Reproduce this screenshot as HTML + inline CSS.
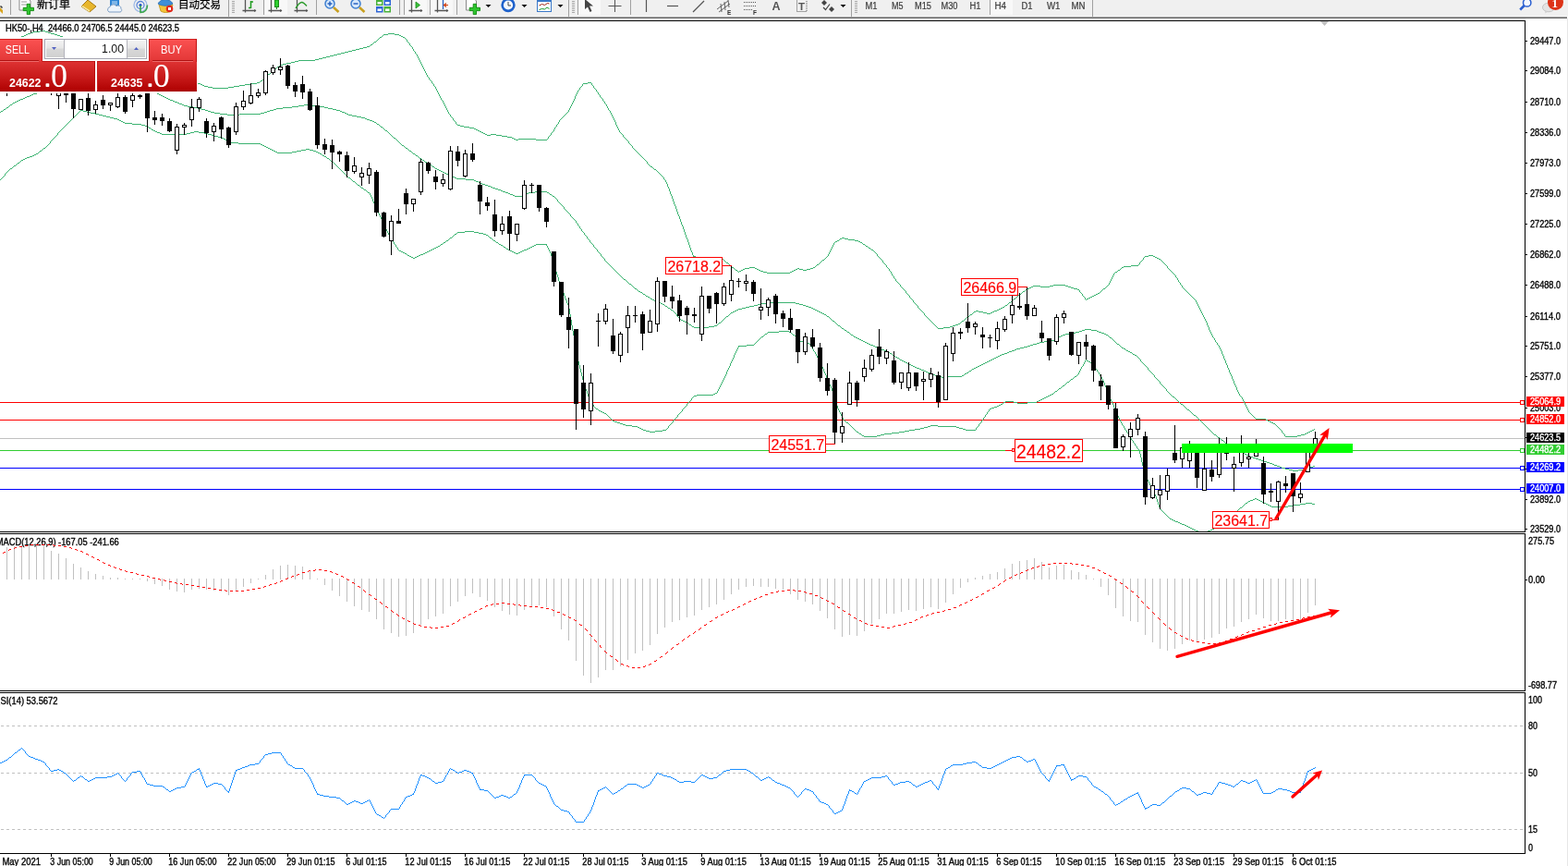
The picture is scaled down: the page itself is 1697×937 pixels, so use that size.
<!DOCTYPE html>
<html><head><meta charset="utf-8"><title>HK50 H4</title><style>
html,body{margin:0;padding:0;background:#fff;}
body{width:1697px;height:937px;overflow:hidden;position:relative;font-family:"Liberation Sans","Noto Sans CJK SC",sans-serif;}
#edge{position:absolute;left:1696px;top:20px;width:1px;height:917px;background:#e6e6e6;}
#tb{position:absolute;left:0;top:0;width:1697px;height:20px;overflow:hidden;}
#tp{position:absolute;left:0;top:42px;width:213px;height:57px;background:#fff;color:#fff;}
#tp .sell{position:absolute;left:0;top:0;width:46px;height:24px;background:linear-gradient(#f65454,#e03a3a);font-size:12.5px;line-height:23px;text-indent:5px;border-bottom:1px solid #c82a2a;box-sizing:border-box;}
#tp .buy{position:absolute;left:161px;top:0;width:52px;height:24px;background:linear-gradient(#f65454,#e03a3a);font-size:12.5px;line-height:23px;text-indent:13px;border-bottom:1px solid #c82a2a;box-sizing:border-box;}
#tp .vol{position:absolute;left:48px;top:0;width:111px;height:22px;box-sizing:border-box;border:1px solid #b4b4bc;background:#fff;}
#tp .vb{position:absolute;top:1px;width:19px;height:18px;background:linear-gradient(#f4f4f4,#cfcfcf);border:1px solid #c4c4c4;box-sizing:border-box;}
#tp .vb.l{left:1px;} #tp .vb.r{right:1px;}
#tp .vb i{position:absolute;left:6px;top:7px;width:0;height:0;border-left:2.5px solid transparent;border-right:2.5px solid transparent;}
#tp .vb i.dn{border-top:3px solid #4a5fc0;} #tp .vb i.up{border-bottom:3px solid #4a5fc0;}
#tp .vv{position:absolute;left:21px;right:25px;top:0;height:20px;line-height:20px;text-align:right;color:#111;font-size:12.5px;}
#tp .ps{position:absolute;left:0;top:24px;width:103px;height:33px;background:linear-gradient(#da3030,#b00000);}
#tp .pb{position:absolute;left:105px;top:24px;width:108px;height:33px;background:linear-gradient(#da3030,#b00000);}
#tp .sm{position:absolute;bottom:1px;font-weight:bold;font-size:11.5px;line-height:14px;}
#tp .dot{position:absolute;bottom:0px;font-weight:bold;font-size:15px;line-height:14px;}
#tp .bg{position:absolute;bottom:-2px;font-size:30px;line-height:34px;font-family:"Liberation Sans",sans-serif;transform:scaleX(0.92);transform-origin:left;}
#tp .ps .sm{left:10px;} #tp .ps .dot{left:47px;} #tp .ps .bg{left:55px;}
#tp .pb .sm{left:15px;} #tp .pb .dot{left:52px;} #tp .pb .bg{left:60px;}
</style></head><body>
<svg width="1697" height="937" viewBox="0 0 1697 937" style="position:absolute;left:0;top:0"><defs><clipPath id="cm"><rect x="0" y="23" width="1650" height="552"/></clipPath><clipPath id="cmacd"><rect x="0" y="578" width="1650" height="169"/></clipPath><clipPath id="crsi"><rect x="0" y="750" width="1650" height="173"/></clipPath></defs>
<g shape-rendering="crispEdges">
<rect x="0" y="435" width="1650" height="1" fill="#ff0000"/>
<rect x="0" y="454" width="1650" height="1" fill="#ff0000"/>
<rect x="0" y="474" width="1650" height="1" fill="#c0c0c0"/>
<rect x="0" y="487" width="1650" height="1" fill="#32cd32"/>
<rect x="0" y="506" width="1650" height="1" fill="#0000ff"/>
<rect x="0" y="529" width="1650" height="1" fill="#0000ff"/>
</g>
<path d="M43 33h6v1h-6zM36 34h7v1h-7zM49 34h3v1h-3zM33 35h3v1h-3zM52 35h3v1h-3zM30 36h3v1h-3zM55 36h4v1h-4zM420 36h7v1h-7zM28 37h2v1h-2zM59 37h3v1h-3zM415 37h5v1h-5zM427 37h5v1h-5zM26 38h2v1h-2zM62 38h3v1h-3zM432 38h2v1h-2zM23 39h3v1h-3zM65 39h3v1h-3zM434 39h2v1h-2zM21 40h2v1h-2zM68 40h2v1h-2zM411 40h2v1h-2zM436 40h2v1h-2zM18 41h3v1h-3zM70 41h2v1h-2zM16 42h2v1h-2zM72 42h2v1h-2zM14 43h2v1h-2zM74 43h3v1h-3zM77 44h2v1h-2zM11 45h2v1h-2zM79 45h3v1h-3zM405 45h2v1h-2zM82 46h3v1h-3zM85 47h2v1h-2zM87 48h3v1h-3zM401 48h2v1h-2zM90 49h3v1h-3zM93 50h2v1h-2zM397 50h3v1h-3zM95 51h3v1h-3zM393 51h4v1h-4zM98 52h3v1h-3zM389 52h4v1h-4zM101 53h2v1h-2zM385 53h4v1h-4zM103 54h3v1h-3zM381 54h4v1h-4zM106 55h3v1h-3zM377 55h4v1h-4zM109 56h2v1h-2zM373 56h4v1h-4zM111 57h3v1h-3zM369 57h4v1h-4zM114 58h3v1h-3zM365 58h4v1h-4zM117 59h2v1h-2zM361 59h4v1h-4zM119 60h3v1h-3zM357 60h4v1h-4zM122 61h3v1h-3zM353 61h4v1h-4zM125 62h2v1h-2zM349 62h4v1h-4zM127 63h3v1h-3zM345 63h4v1h-4zM130 64h3v1h-3zM341 64h4v1h-4zM133 65h3v1h-3zM323 65h18v1h-18zM136 66h3v1h-3zM319 66h4v1h-4zM139 67h2v1h-2zM315 67h4v1h-4zM141 68h3v1h-3zM310 68h5v1h-5zM144 69h3v1h-3zM306 69h4v1h-4zM147 70h3v1h-3zM303 70h3v1h-3zM150 71h2v1h-2zM152 72h3v1h-3zM300 72h2v1h-2zM155 73h3v1h-3zM158 74h3v1h-3zM161 75h3v1h-3zM296 75h2v1h-2zM164 76h2v1h-2zM166 77h3v1h-3zM169 78h3v1h-3zM172 79h4v1h-4zM176 80h4v1h-4zM290 80h2v1h-2zM180 81h4v1h-4zM184 82h3v1h-3zM187 83h4v1h-4zM191 84h4v1h-4zM195 85h4v1h-4zM199 86h3v1h-3zM202 87h4v1h-4zM282 87h2v1h-2zM206 88h4v1h-4zM210 89h4v1h-4zM278 89h3v1h-3zM636 89h4v1h-4zM214 90h3v1h-3zM272 90h6v1h-6zM631 90h5v1h-5zM217 91h2v1h-2zM265 91h7v1h-7zM219 92h2v1h-2zM259 92h6v1h-6zM221 93h4v1h-4zM253 93h6v1h-6zM225 94h5v1h-5zM247 94h6v1h-6zM230 95h17v1h-17zM495 135h3v1h-3zM498 136h4v1h-4zM502 137h6v1h-6zM508 138h5v1h-5zM513 139h2v1h-2zM515 140h2v1h-2zM517 141h2v1h-2zM519 142h2v1h-2zM521 143h2v1h-2zM523 144h2v1h-2zM525 145h2v1h-2zM531 145h6v1h-6zM527 146h4v1h-4zM537 146h6v1h-6zM543 147h6v1h-6zM549 148h5v1h-5zM554 149h2v1h-2zM556 150h2v1h-2zM561 150h19v1h-19zM558 151h3v1h-3zM580 151h12v1h-12zM704 180h2v1h-2zM708 183h2v1h-2zM911 257h3v1h-3zM909 258h2v1h-2zM914 258h4v1h-4zM918 259h7v1h-7zM906 260h2v1h-2zM925 260h4v1h-4zM904 261h2v1h-2zM929 261h2v1h-2zM931 262h2v1h-2zM934 264h2v1h-2zM937 266h2v1h-2zM940 268h2v1h-2zM943 270h2v1h-2zM1243 276h5v1h-5zM750 277h3v1h-3zM1239 277h4v1h-4zM1248 277h2v1h-2zM753 278h5v1h-5zM767 278h8v1h-8zM1250 278h2v1h-2zM758 279h9v1h-9zM775 279h5v1h-5zM1252 279h2v1h-2zM780 280h3v1h-3zM1254 280h2v1h-2zM890 281h2v1h-2zM786 284h2v1h-2zM884 286h2v1h-2zM1224 287h8v1h-8zM1216 288h8v1h-8zM792 289h2v1h-2zM811 289h6v1h-6zM880 289h2v1h-2zM1214 289h2v1h-2zM806 290h5v1h-5zM817 290h2v1h-2zM863 290h2v1h-2zM877 290h3v1h-3zM804 291h2v1h-2zM819 291h2v1h-2zM861 291h2v1h-2zM865 291h4v1h-4zM873 291h4v1h-4zM796 292h2v1h-2zM802 292h2v1h-2zM821 292h2v1h-2zM859 292h2v1h-2zM869 292h4v1h-4zM1210 292h2v1h-2zM800 293h2v1h-2zM823 293h3v1h-3zM857 293h2v1h-2zM826 294h4v1h-4zM855 294h2v1h-2zM1207 294h2v1h-2zM830 295h25v1h-25zM1140 308h13v1h-13zM1118 309h8v1h-8zM1136 309h4v1h-4zM1153 309h3v1h-3zM1116 310h2v1h-2zM1126 310h10v1h-10zM1156 310h3v1h-3zM1114 311h2v1h-2zM1159 311h3v1h-3zM1112 312h2v1h-2zM1162 312h4v1h-4zM1194 312h2v1h-2zM1110 313h2v1h-2zM1166 313h2v1h-2zM1107 315h2v1h-2zM1188 317h2v1h-2zM1186 318h2v1h-2zM1102 319h2v1h-2zM1184 319h2v1h-2zM1182 320h2v1h-2zM1180 321h2v1h-2zM1178 322h2v1h-2zM1097 323h2v1h-2zM1176 323h2v1h-2zM1092 327h2v1h-2zM1088 330h2v1h-2zM1085 332h2v1h-2zM1083 333h2v1h-2zM1081 334h2v1h-2zM1079 335h2v1h-2zM1056 336h3v1h-3zM1076 336h3v1h-3zM1054 337h2v1h-2zM1059 337h5v1h-5zM1074 337h2v1h-2zM1064 338h4v1h-4zM1072 338h2v1h-2zM1068 339h4v1h-4zM1050 340h2v1h-2zM1047 342h2v1h-2zM1041 347h2v1h-2zM1037 350h2v1h-2zM1034 351h3v1h-3zM1031 352h3v1h-3zM1028 353h3v1h-3zM1021 354h7v1h-7zM1015 355h6v1h-6zM1359 453h11v1h-11zM1370 454h2v1h-2zM1372 455h2v1h-2zM1374 456h2v1h-2zM1376 457h2v1h-2zM1378 458h2v1h-2zM1420 465h2v1h-2zM1418 466h2v1h-2zM1416 467h2v1h-2zM1414 468h2v1h-2zM1412 469h2v1h-2zM1408 470h4v1h-4zM1404 471h4v1h-4zM1391 472h13v1h-13zM640 90h1v2h-1zM661 122h1v2h-1zM1261 286h1v1h-1zM476 104h1v2h-1zM1301 339h1v2h-1zM961 290h1v1h-1zM465 86h1v1h-1zM654 110h1v2h-1zM1304 345h1v2h-1zM662 124h1v2h-1zM1322 380h1v3h-1zM409 42h1v1h-1zM612 123h1v1h-1zM686 161h1v1h-1zM1333 407h1v3h-1zM615 119h1v2h-1zM1191 315h1v1h-1zM458 73h1v2h-1zM1315 368h1v2h-1zM1351 444h1v2h-1zM655 112h1v1h-1zM1172 320h1v1h-1zM1043 346h1v1h-1zM461 79h1v2h-1zM1385 464h1v1h-1zM744 259h1v3h-1zM658 117h1v2h-1zM687 162h1v1h-1zM719 194h1v1h-1zM1290 321h1v1h-1zM1347 436h1v2h-1zM628 94h1v1h-1zM1173 321h1v1h-1zM789 286h1v1h-1zM1204 298h1v2h-1zM1319 374h1v2h-1zM720 195h1v2h-1zM1308 354h1v3h-1zM1340 424h1v2h-1zM1348 438h1v2h-1zM669 139h1v2h-1zM1272 298h1v2h-1zM960 289h1v1h-1zM734 232h1v2h-1zM694 169h1v1h-1zM727 212h1v3h-1zM624 100h1v2h-1zM479 109h1v2h-1zM604 132h1v2h-1zM964 294h1v2h-1zM993 331h1v2h-1zM1326 390h1v3h-1zM1384 463h1v1h-1zM490 128h1v2h-1zM657 115h1v2h-1zM1238 278h1v1h-1zM748 271h1v2h-1zM464 84h1v2h-1zM974 308h1v2h-1zM1198 309h1v1h-1zM475 102h1v2h-1zM701 177h1v1h-1zM1300 337h1v2h-1zM413 39h1v1h-1zM712 186h1v1h-1zM730 221h1v2h-1zM653 109h1v1h-1zM1264 290h1v1h-1zM1311 361h1v2h-1zM1233 284h1v2h-1zM1350 442h1v2h-1zM457 71h1v2h-1zM1314 366h1v2h-1zM600 138h1v2h-1zM439 42h1v1h-1zM1096 324h1v1h-1zM1297 331h1v2h-1zM1354 448h1v1h-1zM1275 303h1v2h-1zM985 322h1v1h-1zM1344 430h1v2h-1zM443 47h1v2h-1zM1004 344h1v1h-1zM953 280h1v1h-1zM294 77h1v1h-1zM485 121h1v2h-1zM986 323h1v1h-1zM1271 297h1v1h-1zM607 128h1v1h-1zM693 168h1v1h-1zM482 115h1v2h-1zM959 287h1v2h-1zM967 299h1v2h-1zM619 111h1v2h-1zM896 275h1v2h-1zM664 128h1v2h-1zM740 248h1v3h-1zM1263 288h1v2h-1zM478 108h1v1h-1zM908 259h1v1h-1zM963 293h1v1h-1zM1335 412h1v3h-1zM281 88h1v1h-1zM460 77h1v2h-1zM785 283h1v1h-1zM660 120h1v2h-1zM1171 318h1v2h-1zM729 218h1v3h-1zM945 271h1v1h-1zM883 287h1v1h-1zM737 240h1v3h-1zM1003 343h1v1h-1zM1346 434h1v2h-1zM722 199h1v3h-1zM1310 359h1v2h-1zM1318 373h1v1h-1zM1175 324h1v1h-1zM1321 378h1v2h-1zM1339 422h1v2h-1zM743 257h1v2h-1zM978 313h1v1h-1zM1342 428h1v1h-1zM952 279h1v1h-1zM623 102h1v2h-1zM603 134h1v1h-1zM733 229h1v3h-1zM442 46h1v1h-1zM1343 429h1v1h-1zM1256 281h1v1h-1zM489 127h1v1h-1zM1205 296h1v2h-1zM400 49h1v1h-1zM1328 395h1v3h-1zM726 210h1v2h-1zM1045 344h1v1h-1zM481 113h1v2h-1zM1325 388h1v2h-1zM678 151h1v1h-1zM288 82h1v1h-1zM966 298h1v1h-1zM747 268h1v3h-1zM404 46h1v1h-1zM493 132h1v2h-1zM642 93h1v2h-1zM474 100h1v2h-1zM663 126h1v2h-1zM700 175h1v2h-1zM285 85h1v1h-1zM1049 341h1v1h-1zM996 335h1v1h-1zM599 140h1v2h-1zM1303 343h1v2h-1zM459 75h1v2h-1zM467 88h1v2h-1zM656 113h1v2h-1zM1201 304h1v2h-1zM1332 405h1v2h-1zM456 69h1v2h-1zM902 263h1v2h-1zM1353 447h1v1h-1zM887 284h1v1h-1zM1174 322h1v2h-1zM1387 466h1v2h-1zM441 45h1v1h-1zM471 94h1v2h-1zM718 192h1v2h-1zM594 147h1v1h-1zM618 113h1v2h-1zM1296 329h1v2h-1zM1317 371h1v2h-1zM1349 440h1v2h-1zM707 182h1v1h-1zM1270 296h1v1h-1zM670 141h1v2h-1zM1237 279h1v2h-1zM1338 419h1v3h-1zM453 63h1v2h-1zM1094 326h1v1h-1zM791 288h1v1h-1zM671 143h1v1h-1zM988 325h1v2h-1zM898 271h1v2h-1zM1274 301h1v2h-1zM1284 315h1v1h-1zM677 150h1v1h-1zM1010 350h1v1h-1zM614 121h1v1h-1zM667 135h1v2h-1zM725 207h1v3h-1zM1193 313h1v1h-1zM292 79h1v1h-1zM408 43h1v1h-1zM962 291h1v2h-1zM970 304h1v1h-1zM1285 316h1v1h-1zM746 265h1v3h-1zM1087 331h1v1h-1zM492 131h1v1h-1zM659 119h1v1h-1zM630 91h1v2h-1zM641 92h1v1h-1zM13 44h1v1h-1zM473 98h1v2h-1zM739 245h1v3h-1zM1299 335h1v2h-1zM894 278h1v1h-1zM622 104h1v3h-1zM652 107h1v2h-1zM1302 341h1v2h-1zM466 87h1v1h-1zM977 312h1v1h-1zM1331 403h1v2h-1zM703 179h1v1h-1zM625 98h1v2h-1zM1292 323h1v1h-1zM1345 432h1v2h-1zM1277 306h1v2h-1zM1109 314h1v1h-1zM452 61h1v2h-1zM1309 357h1v2h-1zM955 282h1v2h-1zM987 324h1v1h-1zM445 50h1v1h-1zM969 302h1v2h-1zM1197 310h1v1h-1zM1200 306h1v2h-1zM1232 286h1v1h-1zM724 204h1v3h-1zM1209 293h1v1h-1zM732 226h1v3h-1zM480 111h1v2h-1zM1324 385h1v3h-1zM469 91h1v2h-1zM645 97h1v2h-1zM1213 290h1v1h-1zM738 243h1v2h-1zM1298 333h1v2h-1zM1386 465h1v1h-1zM470 93h1v1h-1zM731 223h1v3h-1zM936 265h1v1h-1zM1266 292h1v1h-1zM597 143h1v1h-1zM688 163h1v1h-1zM1291 322h1v1h-1zM728 215h1v3h-1zM455 67h1v2h-1zM609 126h1v1h-1zM897 273h1v2h-1zM1320 376h1v2h-1zM1390 470h1v2h-1zM444 49h1v1h-1zM1341 426h1v2h-1zM980 315h1v2h-1zM1295 327h1v2h-1zM1273 300h1v1h-1zM742 254h1v3h-1zM1276 305h1v1h-1zM448 55h1v1h-1zM735 234h1v3h-1zM1235 282h1v1h-1zM666 132h1v3h-1zM695 170h1v1h-1zM901 265h1v2h-1zM954 281h1v1h-1zM1306 349h1v3h-1zM965 296h1v2h-1zM1258 283h1v1h-1zM617 115h1v2h-1zM680 153h1v2h-1zM968 301h1v1h-1zM494 134h1v1h-1zM882 288h1v1h-1zM702 178h1v1h-1zM681 155h1v1h-1zM713 187h1v1h-1zM644 96h1v1h-1zM1330 400h1v3h-1zM1265 291h1v1h-1zM714 188h1v1h-1zM1355 449h1v1h-1zM454 65h1v2h-1zM410 41h1v1h-1zM1279 309h1v2h-1zM1005 345h1v1h-1zM447 53h1v2h-1zM1356 450h1v1h-1zM298 74h1v1h-1zM287 83h1v1h-1zM1280 311h1v1h-1zM741 251h1v3h-1zM621 107h1v2h-1zM1337 417h1v2h-1zM749 273h1v3h-1zM1257 282h1v1h-1zM673 145h1v1h-1zM889 282h1v1h-1zM593 148h1v2h-1zM679 152h1v1h-1zM596 144h1v2h-1zM1012 352h1v1h-1zM472 96h1v2h-1zM893 279h1v1h-1zM745 262h1v3h-1zM1287 318h1v1h-1zM997 336h1v1h-1zM1100 321h1v1h-1zM1388 468h1v1h-1zM946 272h1v1h-1zM468 90h1v1h-1zM998 337h1v1h-1zM1323 383h1v2h-1zM1389 469h1v1h-1zM1104 318h1v1h-1zM979 314h1v1h-1zM1294 325h1v2h-1zM900 267h1v2h-1zM668 137h1v2h-1zM302 71h1v1h-1zM451 59h1v2h-1zM616 117h1v2h-1zM1192 314h1v1h-1zM672 144h1v1h-1zM989 327h1v1h-1zM1380 459h1v1h-1zM957 285h1v1h-1zM643 95h1v1h-1zM611 124h1v1h-1zM990 328h1v1h-1zM1011 351h1v1h-1zM1381 460h1v1h-1zM627 95h1v2h-1zM1203 300h1v2h-1zM942 269h1v1h-1zM971 305h1v1h-1zM1286 317h1v1h-1zM665 130h1v2h-1zM647 100h1v2h-1zM972 306h1v1h-1zM608 127h1v1h-1zM690 165h1v1h-1zM446 51h1v2h-1zM949 275h1v2h-1zM1199 308h1v1h-1zM1293 324h1v1h-1zM1329 398h1v2h-1zM449 56h1v2h-1zM1278 308h1v1h-1zM1234 283h1v1h-1zM450 58h1v1h-1zM1307 352h1v2h-1zM956 284h1v1h-1zM1336 415h1v2h-1zM1091 328h1v1h-1zM1053 338h1v1h-1zM682 156h1v1h-1zM723 202h1v2h-1zM899 269h1v2h-1zM1168 314h1v2h-1zM646 99h1v1h-1zM289 81h1v1h-1zM1327 393h1v2h-1zM683 157h1v1h-1zM1000 339h1v2h-1zM715 189h1v1h-1zM736 237h1v3h-1zM293 78h1v1h-1zM1267 293h1v1h-1zM689 164h1v1h-1zM716 190h1v1h-1zM1268 294h1v1h-1zM895 277h1v1h-1zM674 146h1v2h-1zM1358 452h1v1h-1zM1422 464h1v1h-1zM1190 316h1v1h-1zM486 123h1v1h-1zM675 148h1v1h-1zM696 171h1v1h-1zM1095 325h1v1h-1zM933 263h1v1h-1zM1259 284h1v1h-1zM697 172h1v1h-1zM649 103h1v2h-1zM1099 322h1v1h-1zM1260 285h1v1h-1zM650 105h1v1h-1zM999 338h1v1h-1zM981 317h1v1h-1zM606 129h1v1h-1zM1202 302h1v2h-1zM788 285h1v1h-1zM1006 346h1v1h-1zM1357 451h1v1h-1zM595 146h1v1h-1zM903 262h1v1h-1zM1281 312h1v1h-1zM1007 347h1v1h-1zM750 276h1v1h-1zM1282 313h1v1h-1zM1106 316h1v1h-1zM602 135h1v2h-1zM886 285h1v1h-1zM1013 353h1v1h-1zM992 330h1v1h-1zM1383 462h1v1h-1zM648 102h1v1h-1zM1288 319h1v1h-1zM1014 354h1v1h-1zM947 273h1v1h-1zM1206 295h1v1h-1zM1289 320h1v1h-1zM403 47h1v1h-1zM948 274h1v1h-1zM1040 348h1v1h-1zM799 294h1v1h-1zM613 122h1v1h-1zM438 41h1v1h-1zM598 142h1v1h-1zM407 44h1v1h-1zM1044 345h1v1h-1zM626 97h1v1h-1zM629 93h1v1h-1zM991 329h1v1h-1zM284 86h1v1h-1zM610 125h1v1h-1zM684 158h1v2h-1zM783 281h1v1h-1zM711 185h1v1h-1zM685 160h1v1h-1zM784 282h1v1h-1zM973 307h1v1h-1zM1236 281h1v1h-1zM795 291h1v1h-1zM1170 317h1v1h-1zM798 293h1v1h-1zM414 38h1v1h-1zM984 320h1v2h-1zM1196 311h1v1h-1zM691 166h1v1h-1zM484 119h1v2h-1zM487 124h1v2h-1zM692 167h1v1h-1zM958 286h1v1h-1zM1052 339h1v1h-1zM1212 291h1v1h-1zM1382 461h1v1h-1zM488 126h1v1h-1zM1305 347h1v2h-1zM477 106h1v2h-1zM295 76h1v1h-1zM1334 410h1v2h-1zM605 130h1v2h-1zM710 184h1v1h-1zM462 81h1v2h-1zM620 109h1v2h-1zM699 174h1v1h-1zM995 334h1v1h-1zM463 83h1v1h-1zM1169 316h1v1h-1zM721 197h1v2h-1zM1262 287h1v1h-1zM1001 341h1v1h-1zM1312 363h1v2h-1zM950 277h1v1h-1zM1352 446h1v1h-1zM440 43h1v2h-1zM1002 342h1v1h-1zM717 191h1v1h-1zM1313 365h1v1h-1zM951 278h1v1h-1zM983 319h1v1h-1zM1269 295h1v1h-1zM1101 320h1v1h-1zM483 117h1v2h-1zM1090 329h1v1h-1zM1008 348h1v1h-1zM601 137h1v1h-1zM1283 314h1v1h-1zM1009 349h1v1h-1zM299 73h1v1h-1zM794 290h1v1h-1zM698 173h1v1h-1zM994 333h1v1h-1zM10 46h1v1h-1zM1046 343h1v1h-1zM975 310h1v1h-1zM651 106h1v1h-1zM286 84h1v1h-1zM976 311h1v1h-1zM1039 349h1v1h-1zM982 318h1v1h-1zM939 267h1v1h-1zM888 283h1v1h-1zM790 287h1v1h-1zM592 150h1v1h-1zM1316 370h1v1h-1zM706 181h1v1h-1zM1105 317h1v1h-1zM892 280h1v1h-1zM676 149h1v1h-1zM491 130h1v1h-1z" fill="#3cb371" shape-rendering="crispEdges"/>
<path d="M94 93h17v1h-17zM81 94h13v1h-13zM111 94h20v1h-20zM67 95h14v1h-14zM131 95h12v1h-12zM58 96h9v1h-9zM143 96h6v1h-6zM54 97h4v1h-4zM149 97h6v1h-6zM49 98h5v1h-5zM155 98h6v1h-6zM44 99h5v1h-5zM161 99h6v1h-6zM40 100h4v1h-4zM167 100h3v1h-3zM36 101h4v1h-4zM170 101h2v1h-2zM34 102h2v1h-2zM172 102h2v1h-2zM32 103h2v1h-2zM174 103h2v1h-2zM29 104h3v1h-3zM176 104h2v1h-2zM27 105h2v1h-2zM178 105h2v1h-2zM25 106h2v1h-2zM180 106h2v1h-2zM22 107h3v1h-3zM182 107h2v1h-2zM20 108h2v1h-2zM184 108h3v1h-3zM18 109h2v1h-2zM187 109h2v1h-2zM16 110h2v1h-2zM189 110h3v1h-3zM14 111h2v1h-2zM192 111h2v1h-2zM194 112h3v1h-3zM11 113h2v1h-2zM197 113h2v1h-2zM329 113h7v1h-7zM199 114h4v1h-4zM323 114h6v1h-6zM336 114h8v1h-8zM203 115h6v1h-6zM316 115h7v1h-7zM344 115h7v1h-7zM7 116h2v1h-2zM209 116h5v1h-5zM306 116h10v1h-10zM351 116h4v1h-4zM214 117h4v1h-4zM299 117h7v1h-7zM355 117h5v1h-5zM4 118h2v1h-2zM218 118h4v1h-4zM296 118h3v1h-3zM360 118h4v1h-4zM222 119h3v1h-3zM292 119h4v1h-4zM364 119h4v1h-4zM1 120h2v1h-2zM225 120h3v1h-3zM289 120h3v1h-3zM368 120h2v1h-2zM228 121h4v1h-4zM286 121h3v1h-3zM370 121h3v1h-3zM232 122h6v1h-6zM282 122h4v1h-4zM373 122h2v1h-2zM238 123h8v1h-8zM259 123h23v1h-23zM375 123h2v1h-2zM246 124h13v1h-13zM377 124h4v1h-4zM381 125h5v1h-5zM386 126h5v1h-5zM391 127h4v1h-4zM395 128h2v1h-2zM397 129h3v1h-3zM400 130h3v1h-3zM403 131h2v1h-2zM405 132h2v1h-2zM408 134h2v1h-2zM412 137h2v1h-2zM417 141h2v1h-2zM426 149h2v1h-2zM435 157h2v1h-2zM439 160h2v1h-2zM443 163h2v1h-2zM447 166h2v1h-2zM450 168h2v1h-2zM454 171h2v1h-2zM457 173h2v1h-2zM460 175h2v1h-2zM463 177h2v1h-2zM465 178h2v1h-2zM468 180h2v1h-2zM471 182h2v1h-2zM473 183h2v1h-2zM475 184h2v1h-2zM477 185h2v1h-2zM479 186h2v1h-2zM481 187h2v1h-2zM483 188h3v1h-3zM486 189h2v1h-2zM488 190h2v1h-2zM490 191h2v1h-2zM492 192h2v1h-2zM494 193h10v1h-10zM504 194h9v1h-9zM513 195h2v1h-2zM515 196h3v1h-3zM518 197h2v1h-2zM520 198h2v1h-2zM522 199h3v1h-3zM525 200h3v1h-3zM528 201h3v1h-3zM531 202h2v1h-2zM533 203h3v1h-3zM536 204h3v1h-3zM539 205h3v1h-3zM542 206h2v1h-2zM544 207h3v1h-3zM579 207h13v1h-13zM547 208h3v1h-3zM572 208h7v1h-7zM592 208h2v1h-2zM550 209h2v1h-2zM570 209h2v1h-2zM552 210h3v1h-3zM567 210h3v1h-3zM595 210h2v1h-2zM555 211h2v1h-2zM565 211h2v1h-2zM557 212h8v1h-8zM598 212h2v1h-2zM675 302h2v1h-2zM681 307h2v1h-2zM687 312h2v1h-2zM691 315h2v1h-2zM693 316h2v1h-2zM696 318h2v1h-2zM699 320h2v1h-2zM701 321h2v1h-2zM704 323h2v1h-2zM706 324h2v1h-2zM708 325h2v1h-2zM710 326h3v1h-3zM713 327h2v1h-2zM834 327h27v1h-27zM715 328h2v1h-2zM824 328h10v1h-10zM861 328h4v1h-4zM717 329h2v1h-2zM820 329h4v1h-4zM865 329h4v1h-4zM816 330h4v1h-4zM869 330h3v1h-3zM720 331h2v1h-2zM811 331h5v1h-5zM872 331h3v1h-3zM807 332h4v1h-4zM875 332h3v1h-3zM723 333h2v1h-2zM803 333h4v1h-4zM878 333h2v1h-2zM799 334h4v1h-4zM880 334h2v1h-2zM726 335h2v1h-2zM797 335h2v1h-2zM882 335h2v1h-2zM795 336h2v1h-2zM884 336h2v1h-2zM793 337h2v1h-2zM886 337h2v1h-2zM791 338h2v1h-2zM888 338h2v1h-2zM890 339h2v1h-2zM892 340h2v1h-2zM786 342h2v1h-2zM895 342h2v1h-2zM737 346h2v1h-2zM739 347h2v1h-2zM901 347h2v1h-2zM741 348h2v1h-2zM743 349h2v1h-2zM778 349h2v1h-2zM746 351h2v1h-2zM773 352h3v1h-3zM907 352h2v1h-2zM749 353h2v1h-2zM767 353h6v1h-6zM751 354h16v1h-16zM911 355h2v1h-2zM1174 356h7v1h-7zM914 357h2v1h-2zM1171 357h3v1h-3zM1181 357h6v1h-6zM1168 358h3v1h-3zM1187 358h2v1h-2zM917 359h2v1h-2zM1164 359h4v1h-4zM1189 359h3v1h-3zM1159 360h5v1h-5zM1192 360h3v1h-3zM1153 361h6v1h-6zM1195 361h2v1h-2zM921 362h2v1h-2zM1150 362h3v1h-3zM1197 362h2v1h-2zM1148 363h2v1h-2zM924 364h2v1h-2zM1146 364h2v1h-2zM926 365h2v1h-2zM1201 365h2v1h-2zM928 366h2v1h-2zM1143 366h2v1h-2zM930 367h2v1h-2zM1141 367h2v1h-2zM932 368h2v1h-2zM1137 368h4v1h-4zM934 369h2v1h-2zM1130 369h7v1h-7zM936 370h2v1h-2zM1125 370h5v1h-5zM938 371h2v1h-2zM1122 371h3v1h-3zM940 372h2v1h-2zM1118 372h4v1h-4zM1209 372h2v1h-2zM942 373h3v1h-3zM1115 373h3v1h-3zM945 374h2v1h-2zM1112 374h3v1h-3zM947 375h3v1h-3zM1108 375h4v1h-4zM950 376h2v1h-2zM1104 376h4v1h-4zM1214 376h2v1h-2zM952 377h2v1h-2zM1100 377h4v1h-4zM1216 377h2v1h-2zM954 378h3v1h-3zM1098 378h2v1h-2zM957 379h2v1h-2zM1095 379h3v1h-3zM1219 379h2v1h-2zM959 380h2v1h-2zM1092 380h3v1h-3zM1221 380h2v1h-2zM961 381h2v1h-2zM1090 381h2v1h-2zM1223 381h2v1h-2zM963 382h2v1h-2zM1087 382h3v1h-3zM1084 383h3v1h-3zM1226 383h2v1h-2zM966 384h2v1h-2zM1082 384h2v1h-2zM1228 384h2v1h-2zM1080 385h2v1h-2zM969 386h2v1h-2zM1078 386h2v1h-2zM971 387h2v1h-2zM1076 387h2v1h-2zM1074 388h2v1h-2zM974 389h2v1h-2zM1072 389h2v1h-2zM976 390h2v1h-2zM1070 390h2v1h-2zM978 391h2v1h-2zM1068 391h2v1h-2zM980 392h2v1h-2zM1066 392h2v1h-2zM982 393h2v1h-2zM1064 393h2v1h-2zM984 394h2v1h-2zM1062 394h2v1h-2zM986 395h2v1h-2zM1060 395h2v1h-2zM988 396h2v1h-2zM1058 396h2v1h-2zM990 397h2v1h-2zM1056 397h2v1h-2zM992 398h3v1h-3zM1054 398h2v1h-2zM995 399h2v1h-2zM1052 399h2v1h-2zM997 400h3v1h-3zM1000 401h2v1h-2zM1049 401h2v1h-2zM1002 402h2v1h-2zM1004 403h3v1h-3zM1046 403h2v1h-2zM1007 404h2v1h-2zM1044 404h2v1h-2zM1009 405h3v1h-3zM1012 406h4v1h-4zM1041 406h2v1h-2zM1016 407h3v1h-3zM1024 407h17v1h-17zM1019 408h5v1h-5zM1269 429h2v1h-2zM1278 437h2v1h-2zM1285 443h2v1h-2zM1292 449h2v1h-2zM1314 470h2v1h-2zM1318 473h2v1h-2zM1322 476h2v1h-2zM1326 479h2v1h-2zM1328 480h2v1h-2zM1331 482h2v1h-2zM1334 484h2v1h-2zM1336 485h2v1h-2zM1339 487h2v1h-2zM1341 488h2v1h-2zM1343 489h2v1h-2zM1345 490h2v1h-2zM1347 491h2v1h-2zM1349 492h2v1h-2zM1351 493h2v1h-2zM1353 494h3v1h-3zM1356 495h3v1h-3zM1359 496h3v1h-3zM1362 497h3v1h-3zM1365 498h3v1h-3zM1368 499h3v1h-3zM1371 500h3v1h-3zM1374 501h3v1h-3zM1377 502h2v1h-2zM1379 503h3v1h-3zM1382 504h3v1h-3zM1421 504h2v1h-2zM1385 505h2v1h-2zM1418 505h3v1h-3zM1387 506h4v1h-4zM1415 506h3v1h-3zM1391 507h4v1h-4zM1411 507h4v1h-4zM1395 508h4v1h-4zM1405 508h6v1h-6zM1399 509h6v1h-6zM603 216h1v2h-1zM1256 415h1v1h-1zM898 344h1v1h-1zM449 167h1v1h-1zM1250 408h1v1h-1zM666 293h1v1h-1zM909 353h1v1h-1zM624 241h1v1h-1zM1232 387h1v1h-1zM662 289h1v1h-1zM1312 468h1v1h-1zM642 265h1v2h-1zM1290 447h1v1h-1zM690 314h1v1h-1zM916 358h1v1h-1zM651 277h1v1h-1zM910 354h1v1h-1zM736 345h1v1h-1zM1283 441h1v1h-1zM1307 463h1v1h-1zM600 213h1v1h-1zM1268 428h1v1h-1zM638 260h1v2h-1zM610 224h1v2h-1zM421 144h1v1h-1zM1262 421h1v2h-1zM1303 459h1v1h-1zM1257 416h1v1h-1zM1313 469h1v1h-1zM667 294h1v1h-1zM1258 417h1v1h-1zM434 156h1v1h-1zM1212 374h1v1h-1zM625 242h1v2h-1zM422 145h1v1h-1zM733 342h1v1h-1zM680 306h1v1h-1zM673 300h1v1h-1zM790 339h1v1h-1zM1240 396h1v1h-1zM668 295h1v1h-1zM1234 389h1v2h-1zM441 161h1v1h-1zM601 214h1v1h-1zM1213 375h1v1h-1zM669 296h1v1h-1zM620 236h1v1h-1zM664 291h1v1h-1zM629 248h1v2h-1zM1333 483h1v1h-1zM784 344h1v1h-1zM602 215h1v1h-1zM631 251h1v1h-1zM1310 466h1v1h-1zM1048 402h1v1h-1zM654 280h1v2h-1zM1281 439h1v1h-1zM648 273h1v1h-1zM1321 475h1v1h-1zM734 343h1v1h-1zM674 301h1v1h-1zM424 147h1v1h-1zM782 346h1v1h-1zM1260 419h1v1h-1zM617 232h1v2h-1zM783 345h1v1h-1zM788 341h1v1h-1zM1311 467h1v1h-1zM611 226h1v1h-1zM695 317h1v1h-1zM635 256h1v2h-1zM649 274h1v1h-1zM735 344h1v1h-1zM1199 363h1v1h-1zM456 172h1v1h-1zM729 337h1v1h-1zM1043 405h1v1h-1zM9 115h1v1h-1zM425 148h1v1h-1zM636 258h1v1h-1zM686 311h1v1h-1zM1261 420h1v1h-1zM462 176h1v1h-1zM0 121h1v1h-1zM1255 413h1v2h-1zM671 298h1v1h-1zM1051 400h1v1h-1zM776 351h1v1h-1zM689 313h1v1h-1zM407 133h1v1h-1zM1211 373h1v1h-1zM1251 409h1v1h-1zM623 239h1v2h-1zM618 234h1v1h-1zM903 348h1v1h-1zM1271 430h1v1h-1zM627 245h1v2h-1zM619 235h1v1h-1zM1218 378h1v1h-1zM628 247h1v1h-1zM1291 448h1v1h-1zM745 350h1v1h-1zM637 259h1v1h-1zM652 278h1v1h-1zM1284 442h1v1h-1zM646 270h1v2h-1zM1338 486h1v1h-1zM923 363h1v1h-1zM672 299h1v1h-1zM1280 438h1v1h-1zM1242 398h1v2h-1zM415 139h1v1h-1zM1252 410h1v1h-1zM1320 474h1v1h-1zM632 252h1v2h-1zM647 272h1v1h-1zM732 340h1v2h-1zM785 343h1v1h-1zM904 349h1v1h-1zM684 309h1v1h-1zM965 383h1v1h-1zM728 336h1v1h-1zM1253 411h1v1h-1zM894 341h1v1h-1zM445 164h1v1h-1zM905 350h1v1h-1zM1254 412h1v1h-1zM789 340h1v1h-1zM719 330h1v1h-1zM1249 406h1v2h-1zM467 179h1v1h-1zM621 237h1v1h-1zM416 140h1v1h-1zM1243 400h1v1h-1zM615 230h1v1h-1zM452 169h1v1h-1zM722 332h1v1h-1zM1297 453h1v1h-1zM777 350h1v1h-1zM1244 401h1v1h-1zM1275 434h1v1h-1zM1282 440h1v1h-1zM616 231h1v1h-1zM1238 394h1v1h-1zM428 150h1v1h-1zM913 356h1v1h-1zM13 112h1v1h-1zM634 255h1v1h-1zM899 345h1v1h-1zM1231 386h1v1h-1zM612 227h1v1h-1zM1208 371h1v1h-1zM650 275h1v2h-1zM780 348h1v1h-1zM622 238h1v1h-1zM781 347h1v1h-1zM644 268h1v1h-1zM1203 366h1v1h-1zM730 338h1v1h-1zM920 361h1v1h-1zM1204 367h1v1h-1zM437 158h1v1h-1zM3 119h1v1h-1zM597 211h1v1h-1zM683 308h1v1h-1zM645 269h1v1h-1zM1245 402h1v1h-1zM1276 435h1v1h-1zM1304 460h1v1h-1zM1246 403h1v1h-1zM414 138h1v1h-1zM1272 431h1v1h-1zM613 228h1v1h-1zM1300 456h1v1h-1zM1317 472h1v1h-1zM1295 451h1v1h-1zM731 339h1v1h-1zM1247 404h1v1h-1zM1205 368h1v1h-1zM438 159h1v1h-1zM1241 397h1v1h-1zM431 153h1v1h-1zM614 229h1v1h-1zM1236 392h1v1h-1zM1273 432h1v1h-1zM1296 452h1v1h-1zM608 222h1v1h-1zM1145 365h1v1h-1zM703 322h1v1h-1zM968 385h1v1h-1zM1237 393h1v1h-1zM897 343h1v1h-1zM665 292h1v1h-1zM1206 369h1v1h-1zM1225 382h1v1h-1zM604 218h1v1h-1zM633 254h1v1h-1zM432 154h1v1h-1zM1325 478h1v1h-1zM685 310h1v1h-1zM661 288h1v1h-1zM678 304h1v1h-1zM641 264h1v1h-1zM656 283h1v1h-1zM446 165h1v1h-1zM1248 405h1v1h-1zM605 219h1v1h-1zM906 351h1v1h-1zM643 267h1v1h-1zM657 284h1v1h-1zM1267 427h1v1h-1zM1274 433h1v1h-1zM1302 458h1v1h-1zM410 135h1v1h-1zM453 170h1v1h-1zM698 319h1v1h-1zM1207 370h1v1h-1zM1263 423h1v1h-1zM1200 364h1v1h-1zM1298 454h1v1h-1zM433 155h1v1h-1zM459 174h1v1h-1zM1308 464h1v1h-1zM919 360h1v1h-1zM679 305h1v1h-1zM411 136h1v1h-1zM1239 395h1v1h-1zM429 151h1v1h-1zM594 209h1v1h-1zM626 244h1v1h-1zM1233 388h1v1h-1zM1287 444h1v1h-1zM606 220h1v1h-1zM1294 450h1v1h-1zM1299 455h1v1h-1zM658 285h1v1h-1zM900 346h1v1h-1zM1235 391h1v1h-1zM607 221h1v1h-1zM663 290h1v1h-1zM1264 424h1v1h-1zM973 388h1v1h-1zM630 250h1v1h-1zM659 286h1v1h-1zM6 117h1v1h-1zM1309 465h1v1h-1zM639 262h1v1h-1zM653 279h1v1h-1zM748 352h1v1h-1zM1230 385h1v1h-1zM1316 471h1v1h-1zM1277 436h1v1h-1zM640 263h1v1h-1zM430 152h1v1h-1zM423 146h1v1h-1zM655 282h1v1h-1zM1265 425h1v1h-1zM1259 418h1v1h-1zM1288 445h1v1h-1zM1305 461h1v1h-1zM1330 481h1v1h-1zM10 114h1v1h-1zM1266 426h1v1h-1zM470 181h1v1h-1zM1301 457h1v1h-1zM419 142h1v1h-1zM1289 446h1v1h-1zM1306 462h1v1h-1zM725 334h1v1h-1zM1324 477h1v1h-1zM442 162h1v1h-1zM660 287h1v1h-1zM677 303h1v1h-1zM670 297h1v1h-1zM609 223h1v1h-1zM420 143h1v1h-1z" fill="#3cb371" shape-rendering="crispEdges"/>
<path d="M87 119h3v1h-3zM90 120h4v1h-4zM94 121h4v1h-4zM98 122h5v1h-5zM103 123h4v1h-4zM107 124h4v1h-4zM111 125h4v1h-4zM115 126h4v1h-4zM119 127h4v1h-4zM123 128h4v1h-4zM127 129h2v1h-2zM129 130h2v1h-2zM131 131h2v1h-2zM133 132h2v1h-2zM135 133h8v1h-8zM143 134h10v1h-10zM153 135h4v1h-4zM157 136h2v1h-2zM159 137h2v1h-2zM161 138h2v1h-2zM164 140h2v1h-2zM166 141h2v1h-2zM168 142h2v1h-2zM210 142h5v1h-5zM170 143h3v1h-3zM206 143h4v1h-4zM215 143h6v1h-6zM173 144h2v1h-2zM202 144h4v1h-4zM221 144h4v1h-4zM175 145h27v1h-27zM225 145h4v1h-4zM229 146h3v1h-3zM232 147h4v1h-4zM236 148h4v1h-4zM240 149h2v1h-2zM242 150h2v1h-2zM246 153h2v1h-2zM248 154h10v1h-10zM258 155h24v1h-24zM282 156h2v1h-2zM284 157h2v1h-2zM286 158h2v1h-2zM288 159h2v1h-2zM47 160h2v1h-2zM290 160h2v1h-2zM292 161h2v1h-2zM331 161h4v1h-4zM294 162h2v1h-2zM326 162h5v1h-5zM335 162h4v1h-4zM43 163h2v1h-2zM296 163h2v1h-2zM321 163h5v1h-5zM339 163h3v1h-3zM298 164h2v1h-2zM316 164h5v1h-5zM342 164h2v1h-2zM300 165h16v1h-16zM344 165h2v1h-2zM39 166h2v1h-2zM346 166h2v1h-2zM37 167h2v1h-2zM35 168h2v1h-2zM349 168h2v1h-2zM32 169h3v1h-3zM351 169h2v1h-2zM29 170h3v1h-3zM27 171h2v1h-2zM354 171h2v1h-2zM25 172h2v1h-2zM23 173h2v1h-2zM358 174h2v1h-2zM19 176h2v1h-2zM15 179h2v1h-2zM11 182h2v1h-2zM377 192h2v1h-2zM382 196h2v1h-2zM387 200h2v1h-2zM391 203h2v1h-2zM394 205h2v1h-2zM398 208h2v1h-2zM503 250h10v1h-10zM495 251h8v1h-8zM513 251h5v1h-5zM518 252h5v1h-5zM492 253h2v1h-2zM523 253h3v1h-3zM526 254h2v1h-2zM487 257h2v1h-2zM530 257h2v1h-2zM483 260h2v1h-2zM534 260h2v1h-2zM480 262h2v1h-2zM537 262h2v1h-2zM477 264h2v1h-2zM540 264h2v1h-2zM580 264h12v1h-12zM542 265h2v1h-2zM578 265h2v1h-2zM474 266h2v1h-2zM576 266h2v1h-2zM472 267h2v1h-2zM545 267h2v1h-2zM574 267h2v1h-2zM470 268h2v1h-2zM572 268h2v1h-2zM468 269h2v1h-2zM548 269h2v1h-2zM570 269h2v1h-2zM466 270h2v1h-2zM550 270h2v1h-2zM567 270h3v1h-3zM432 271h2v1h-2zM464 271h2v1h-2zM552 271h2v1h-2zM565 271h2v1h-2zM434 272h2v1h-2zM462 272h2v1h-2zM554 272h2v1h-2zM563 272h2v1h-2zM436 273h2v1h-2zM460 273h2v1h-2zM556 273h2v1h-2zM561 273h2v1h-2zM438 274h2v1h-2zM458 274h2v1h-2zM558 274h3v1h-3zM455 275h3v1h-3zM441 276h2v1h-2zM453 276h2v1h-2zM443 277h2v1h-2zM451 277h2v1h-2zM445 278h2v1h-2zM449 278h2v1h-2zM447 279h2v1h-2zM843 358h11v1h-11zM831 359h12v1h-12zM854 359h2v1h-2zM828 361h2v1h-2zM858 362h2v1h-2zM824 364h2v1h-2zM866 369h4v1h-4zM870 370h4v1h-4zM874 371h2v1h-2zM808 373h8v1h-8zM799 374h9v1h-9zM1176 390h2v1h-2zM1178 391h2v1h-2zM1181 393h2v1h-2zM1163 407h2v1h-2zM1159 410h2v1h-2zM1155 413h2v1h-2zM1150 417h2v1h-2zM1146 420h2v1h-2zM1142 423h2v1h-2zM774 425h2v1h-2zM772 426h2v1h-2zM1138 426h2v1h-2zM754 427h18v1h-18zM1136 427h2v1h-2zM751 428h3v1h-3zM1134 428h2v1h-2zM1132 429h2v1h-2zM1130 430h2v1h-2zM1128 431h2v1h-2zM1126 432h2v1h-2zM1124 433h2v1h-2zM1088 434h9v1h-9zM1122 434h2v1h-2zM1086 435h2v1h-2zM1097 435h4v1h-4zM1112 435h10v1h-10zM1101 436h11v1h-11zM1083 437h2v1h-2zM1081 438h2v1h-2zM1079 439h2v1h-2zM1076 440h3v1h-3zM1073 441h3v1h-3zM645 442h2v1h-2zM1071 442h2v1h-2zM648 444h2v1h-2zM650 445h2v1h-2zM652 446h2v1h-2zM654 447h2v1h-2zM663 455h2v1h-2zM665 456h3v1h-3zM668 457h3v1h-3zM916 457h2v1h-2zM671 458h3v1h-3zM674 459h3v1h-3zM677 460h7v1h-7zM1007 460h8v1h-8zM684 461h6v1h-6zM1004 461h3v1h-3zM1015 461h20v1h-20zM690 462h2v1h-2zM1000 462h4v1h-4zM1035 462h3v1h-3zM692 463h2v1h-2zM996 463h4v1h-4zM1038 463h4v1h-4zM694 464h2v1h-2zM990 464h6v1h-6zM1042 464h3v1h-3zM696 465h3v1h-3zM717 465h4v1h-4zM984 465h6v1h-6zM1045 465h11v1h-11zM699 466h4v1h-4zM709 466h8v1h-8zM979 466h5v1h-5zM703 467h6v1h-6zM927 467h2v1h-2zM973 467h6v1h-6zM965 468h8v1h-8zM930 469h2v1h-2zM957 469h8v1h-8zM953 470h4v1h-4zM933 471h2v1h-2zM949 471h4v1h-4zM935 472h14v1h-14zM1358 539h2v1h-2zM1356 540h2v1h-2zM1360 540h2v1h-2zM1353 541h3v1h-3zM1362 541h2v1h-2zM1351 542h2v1h-2zM1364 542h2v1h-2zM1366 543h2v1h-2zM1348 544h2v1h-2zM1368 544h2v1h-2zM1413 544h7v1h-7zM1370 545h2v1h-2zM1407 545h6v1h-6zM1420 545h3v1h-3zM1372 546h2v1h-2zM1400 546h7v1h-7zM1374 547h2v1h-2zM1394 547h6v1h-6zM1376 548h18v1h-18zM1342 549h2v1h-2zM1336 554h2v1h-2zM1329 560h2v1h-2zM1266 561h2v1h-2zM1268 562h2v1h-2zM1270 563h2v1h-2zM1272 564h3v1h-3zM1275 565h2v1h-2zM1323 565h2v1h-2zM1277 566h2v1h-2zM1279 567h3v1h-3zM1282 568h2v1h-2zM1284 569h2v1h-2zM1318 569h2v1h-2zM1286 570h2v1h-2zM1316 570h2v1h-2zM1288 571h2v1h-2zM1314 571h2v1h-2zM1290 572h2v1h-2zM1312 572h2v1h-2zM1292 573h2v1h-2zM1310 573h2v1h-2zM1294 574h3v1h-3zM1307 574h3v1h-3zM1203 434h1v2h-1zM1193 410h1v2h-1zM798 376h1v2h-1zM889 395h1v2h-1zM620 358h1v5h-1zM64 142h1v1h-1zM407 225h1v2h-1zM1250 535h1v2h-1zM603 297h1v3h-1zM630 407h1v4h-1zM1221 469h1v2h-1zM929 468h1v1h-1zM163 139h1v1h-1zM638 431h1v2h-1zM418 248h1v2h-1zM606 307h1v3h-1zM371 186h1v1h-1zM641 436h1v2h-1zM429 267h1v1h-1zM631 411h1v4h-1zM1070 443h1v2h-1zM1340 551h1v1h-1zM623 375h1v5h-1zM747 433h1v1h-1zM547 268h1v1h-1zM404 218h1v2h-1zM9 184h1v1h-1zM778 419h1v2h-1zM363 178h1v1h-1zM627 395h1v4h-1zM1210 450h1v2h-1zM790 393h1v3h-1zM896 411h1v2h-1zM624 380h1v6h-1zM731 452h1v1h-1zM617 340h1v6h-1zM6 187h1v1h-1zM592 266h1v2h-1zM1239 511h1v3h-1zM600 287h1v3h-1zM728 455h1v2h-1zM613 325h1v3h-1zM415 242h1v2h-1zM53 155h1v1h-1zM56 151h1v1h-1zM1066 449h1v2h-1zM479 263h1v1h-1zM1185 397h1v2h-1zM723 461h1v2h-1zM1169 399h1v2h-1zM370 185h1v1h-1zM1061 457h1v1h-1zM1189 403h1v2h-1zM739 442h1v1h-1zM1228 480h1v2h-1zM888 393h1v2h-1zM626 391h1v4h-1zM906 439h1v3h-1zM782 411h1v2h-1zM396 206h1v1h-1zM637 429h1v2h-1zM1224 474h1v2h-1zM1232 486h1v2h-1zM1165 406h1v1h-1zM1344 548h1v1h-1zM428 265h1v2h-1zM821 367h1v1h-1zM13 181h1v1h-1zM59 148h1v1h-1zM885 387h1v2h-1zM1154 414h1v1h-1zM440 275h1v1h-1zM1235 495h1v5h-1zM895 409h1v2h-1zM17 178h1v1h-1zM616 334h1v6h-1zM903 429h1v4h-1zM83 123h1v1h-1zM414 240h1v2h-1zM539 263h1v1h-1zM633 418h1v3h-1zM924 464h1v1h-1zM599 284h1v3h-1zM1158 411h1v1h-1zM1085 436h1v1h-1zM1320 568h1v1h-1zM21 175h1v1h-1zM629 403h1v4h-1zM925 465h1v1h-1zM1252 540h1v3h-1zM622 369h1v6h-1zM1184 395h1v2h-1zM1192 408h1v2h-1zM902 426h1v3h-1zM910 448h1v2h-1zM789 396h1v2h-1zM1188 402h1v1h-1zM640 435h1v1h-1zM1227 479h1v1h-1zM71 135h1v1h-1zM1255 549h1v2h-1zM1199 424h1v3h-1zM431 270h1v1h-1zM5 188h1v2h-1zM1256 551h1v1h-1zM403 215h1v3h-1zM794 384h1v3h-1zM1231 485h1v1h-1zM1209 447h1v3h-1zM647 443h1v1h-1zM417 246h1v2h-1zM619 352h1v6h-1zM797 378h1v2h-1zM1241 516h1v3h-1zM923 463h1v1h-1zM912 452h1v2h-1zM632 415h1v3h-1zM1206 441h1v2h-1zM1187 400h1v2h-1zM1263 558h1v1h-1zM1195 414h1v3h-1zM738 443h1v2h-1zM625 386h1v5h-1zM913 454h1v1h-1zM662 454h1v1h-1zM1238 508h1v3h-1zM1172 394h1v2h-1zM598 280h1v4h-1zM1191 407h1v1h-1zM784 407h1v2h-1zM1064 452h1v2h-1zM1249 533h1v2h-1zM909 446h1v2h-1zM602 294h1v3h-1zM639 433h1v2h-1zM1141 424h1v1h-1zM1335 555h1v1h-1zM636 426h1v3h-1zM78 128h1v1h-1zM406 222h1v3h-1zM777 421h1v2h-1zM615 330h1v4h-1zM746 434h1v1h-1zM245 152h1v1h-1zM605 304h1v3h-1zM884 385h1v2h-1zM485 259h1v1h-1zM1168 401h1v2h-1zM905 436h1v3h-1zM877 373h1v2h-1zM601 290h1v4h-1zM413 237h1v3h-1zM819 369h1v1h-1zM416 244h1v2h-1zM741 440h1v1h-1zM365 180h1v1h-1zM66 140h1v1h-1zM1194 412h1v2h-1zM628 399h1v4h-1zM816 372h1v1h-1zM788 398h1v2h-1zM722 463h1v1h-1zM1251 537h1v3h-1zM366 181h1v1h-1zM1205 438h1v3h-1zM1057 462h1v1h-1zM1234 491h1v4h-1zM1346 546h1v1h-1zM1069 445h1v1h-1zM865 368h1v1h-1zM642 438h1v2h-1zM618 346h1v6h-1zM1350 543h1v1h-1zM643 440h1v1h-1zM1248 531h1v2h-1zM890 397h1v2h-1zM1145 421h1v1h-1zM1339 552h1v1h-1zM1237 504h1v4h-1zM749 430h1v1h-1zM1201 429h1v3h-1zM85 121h1v1h-1zM8 185h1v1h-1zM887 391h1v2h-1zM373 188h1v1h-1zM796 380h1v2h-1zM1230 483h1v2h-1zM730 453h1v1h-1zM1233 488h1v3h-1zM880 378h1v2h-1zM489 256h1v1h-1zM430 268h1v2h-1zM883 383h1v2h-1zM1326 563h1v1h-1zM904 433h1v3h-1zM1198 422h1v2h-1zM920 460h1v1h-1zM876 372h1v1h-1zM894 406h1v3h-1zM725 459h1v1h-1zM897 413h1v3h-1zM402 213h1v2h-1zM1060 458h1v1h-1zM1208 445h1v2h-1zM783 409h1v2h-1zM1063 454h1v1h-1zM73 133h1v1h-1zM1190 405h1v2h-1zM42 164h1v1h-1zM795 382h1v2h-1zM1180 392h1v1h-1zM911 450h1v2h-1zM0 194h1v1h-1zM611 320h1v3h-1zM1186 399h1v1h-1zM908 444h1v2h-1zM1175 389h1v1h-1zM901 423h1v3h-1zM544 266h1v1h-1zM1236 500h1v4h-1zM597 277h1v3h-1zM1167 403h1v2h-1zM733 449h1v2h-1zM372 187h1v1h-1zM58 149h1v1h-1zM608 312h1v3h-1zM1200 427h1v2h-1zM1254 546h1v3h-1zM886 389h1v2h-1zM918 458h1v1h-1zM397 207h1v1h-1zM405 220h1v2h-1zM879 376h1v2h-1zM919 459h1v1h-1zM1171 396h1v1h-1zM1258 553h1v1h-1zM1240 514h1v2h-1zM621 363h1v6h-1zM1207 443h1v2h-1zM657 449h1v1h-1zM604 300h1v4h-1zM46 161h1v1h-1zM80 126h1v1h-1zM861 364h1v1h-1zM823 365h1v1h-1zM610 317h1v3h-1zM412 235h1v2h-1zM50 158h1v1h-1zM926 466h1v1h-1zM827 362h1v1h-1zM1247 529h1v2h-1zM907 442h1v2h-1zM900 420h1v3h-1zM596 274h1v3h-1zM68 138h1v1h-1zM787 400h1v2h-1zM882 381h1v2h-1zM799 375h1v1h-1zM360 175h1v1h-1zM1059 459h1v2h-1zM1257 552h1v1h-1zM1197 419h1v3h-1zM878 375h1v1h-1zM361 176h1v1h-1zM656 448h1v1h-1zM860 363h1v1h-1zM1162 408h1v1h-1zM10 183h1v1h-1zM786 402h1v3h-1zM732 451h1v1h-1zM379 193h1v1h-1zM893 404h1v2h-1zM1264 559h1v1h-1zM390 202h1v1h-1zM491 254h1v1h-1zM14 180h1v1h-1zM77 129h1v1h-1zM748 431h1v2h-1zM1204 436h1v2h-1zM914 455h1v1h-1zM393 204h1v1h-1zM1265 560h1v1h-1zM1246 527h1v2h-1zM18 177h1v1h-1zM915 456h1v1h-1zM644 441h1v1h-1zM536 261h1v1h-1zM1170 397h1v2h-1zM1062 455h1v2h-1zM1321 567h1v1h-1zM743 437h1v2h-1zM1214 458h1v2h-1zM818 370h1v1h-1zM740 441h1v1h-1zM1253 543h1v3h-1zM1243 521h1v2h-1zM2 192h1v1h-1zM65 141h1v1h-1zM614 328h1v2h-1zM724 460h1v1h-1zM401 211h1v2h-1zM1166 405h1v1h-1zM411 233h1v2h-1zM1341 550h1v1h-1zM60 147h1v1h-1zM1174 390h1v2h-1zM367 182h1v1h-1zM892 402h1v2h-1zM532 258h1v1h-1zM356 172h1v1h-1zM408 227h1v2h-1zM22 174h1v1h-1zM1328 561h1v1h-1zM1217 463h1v2h-1zM727 457h1v1h-1zM1325 564h1v1h-1zM422 256h1v2h-1zM856 360h1v1h-1zM75 131h1v1h-1zM374 189h1v1h-1zM1218 465h1v1h-1zM385 198h1v1h-1zM899 418h1v2h-1zM52 156h1v1h-1zM881 380h1v1h-1zM72 134h1v1h-1zM41 165h1v1h-1zM593 268h1v2h-1zM389 201h1v1h-1zM921 461h1v1h-1zM400 209h1v2h-1zM1196 417h1v2h-1zM735 447h1v1h-1zM781 413h1v2h-1zM410 231h1v2h-1zM793 387h1v2h-1zM63 143h1v1h-1zM609 315h1v2h-1zM84 122h1v1h-1zM1332 558h1v1h-1zM1213 456h1v2h-1zM1245 525h1v2h-1zM348 167h1v1h-1zM55 152h1v1h-1zM595 272h1v2h-1zM1242 519h1v2h-1zM82 124h1v1h-1zM421 254h1v2h-1zM932 470h1v1h-1zM482 261h1v1h-1zM1065 451h1v1h-1zM1259 554h1v1h-1zM486 258h1v1h-1zM776 423h1v2h-1zM658 450h1v1h-1zM1260 555h1v1h-1zM862 365h1v1h-1zM891 399h1v3h-1zM70 136h1v1h-1zM659 451h1v1h-1zM820 368h1v1h-1zM863 366h1v1h-1zM381 195h1v1h-1zM1216 461h1v2h-1zM384 197h1v1h-1zM1149 418h1v1h-1zM424 259h1v2h-1zM1212 454h1v2h-1zM1056 463h1v2h-1zM1153 415h1v1h-1zM1173 392h1v2h-1zM785 405h1v2h-1zM594 270h1v2h-1zM425 261h1v1h-1zM1068 446h1v2h-1zM1347 545h1v1h-1zM79 127h1v1h-1zM362 177h1v1h-1zM750 429h1v1h-1zM409 229h1v2h-1zM1202 432h1v2h-1zM742 439h1v1h-1zM4 190h1v1h-1zM67 139h1v1h-1zM369 184h1v1h-1zM1244 523h1v2h-1zM1 193h1v1h-1zM1219 466h1v2h-1zM420 252h1v2h-1zM780 415h1v2h-1zM423 258h1v1h-1zM857 361h1v1h-1zM1157 412h1v1h-1zM792 389h1v2h-1zM635 423h1v3h-1zM737 445h1v1h-1zM62 144h1v2h-1zM1220 468h1v1h-1zM898 416h1v2h-1zM1161 409h1v1h-1zM591 265h1v1h-1zM86 120h1v1h-1zM1334 556h1v1h-1zM612 323h1v2h-1zM734 448h1v1h-1zM380 194h1v1h-1zM1338 553h1v1h-1zM745 435h1v1h-1zM1327 562h1v1h-1zM7 186h1v1h-1zM476 265h1v1h-1zM726 458h1v1h-1zM729 454h1v1h-1zM1331 559h1v1h-1zM54 153h1v2h-1zM74 132h1v1h-1zM1222 471h1v2h-1zM357 173h1v1h-1zM51 157h1v1h-1zM1215 460h1v1h-1zM1223 473h1v1h-1zM721 464h1v1h-1zM1226 477h1v2h-1zM419 250h1v2h-1zM427 264h1v1h-1zM376 191h1v1h-1zM1345 547h1v1h-1zM1140 425h1v1h-1zM368 183h1v1h-1zM533 259h1v1h-1zM1144 422h1v1h-1zM57 150h1v1h-1zM1262 557h1v1h-1zM779 417h1v2h-1zM791 391h1v2h-1zM661 453h1v1h-1zM1148 419h1v1h-1zM81 125h1v1h-1zM607 310h1v2h-1zM1211 452h1v2h-1zM426 262h1v2h-1zM375 190h1v1h-1zM386 199h1v1h-1zM45 162h1v1h-1zM244 151h1v1h-1zM822 366h1v1h-1zM922 462h1v1h-1zM49 159h1v1h-1zM634 421h1v2h-1zM69 137h1v1h-1zM826 363h1v1h-1zM353 170h1v1h-1zM364 179h1v1h-1zM660 452h1v1h-1zM1152 416h1v1h-1zM864 367h1v1h-1zM1183 394h1v1h-1zM1058 461h1v1h-1zM1067 448h1v1h-1zM1225 476h1v1h-1zM736 446h1v1h-1zM61 146h1v1h-1zM528 255h1v1h-1zM1229 482h1v1h-1zM529 256h1v1h-1zM1333 557h1v1h-1zM1322 566h1v1h-1zM490 255h1v1h-1zM76 130h1v1h-1zM1261 556h1v1h-1zM830 360h1v1h-1zM744 436h1v1h-1zM494 252h1v1h-1zM3 191h1v1h-1zM817 371h1v1h-1z" fill="#3cb371" shape-rendering="crispEdges"/>
<g shape-rendering="crispEdges" clip-path="url(#cm)">
<rect x="7" y="75" width="1" height="29" fill="#000"/>
<rect x="5" y="80" width="5" height="16" fill="#000"/>
<rect x="6" y="81" width="3" height="14" fill="#fff"/>
<rect x="55" y="80" width="1" height="23" fill="#000"/>
<rect x="53" y="85" width="5" height="12" fill="#000"/>
<rect x="54" y="86" width="3" height="10" fill="#fff"/>
<rect x="63" y="85" width="1" height="33" fill="#000"/>
<rect x="61" y="90" width="5" height="14" fill="#000"/>
<rect x="62" y="91" width="3" height="12" fill="#fff"/>
<rect x="71" y="95" width="1" height="16" fill="#000"/>
<rect x="69" y="101" width="5" height="2" fill="#000"/>
<rect x="79" y="90" width="1" height="38" fill="#000"/>
<rect x="77" y="90" width="5" height="28" fill="#000"/>
<rect x="87" y="107" width="1" height="12" fill="#000"/>
<rect x="85" y="107" width="5" height="12" fill="#000"/>
<rect x="86" y="108" width="3" height="10" fill="#fff"/>
<rect x="95" y="101" width="1" height="24" fill="#000"/>
<rect x="93" y="106" width="5" height="14" fill="#000"/>
<rect x="103" y="109" width="1" height="14" fill="#000"/>
<rect x="101" y="113" width="5" height="6" fill="#000"/>
<rect x="102" y="114" width="3" height="4" fill="#fff"/>
<rect x="111" y="103" width="1" height="15" fill="#000"/>
<rect x="109" y="108" width="5" height="6" fill="#000"/>
<rect x="119" y="111" width="1" height="9" fill="#000"/>
<rect x="117" y="111" width="5" height="3" fill="#000"/>
<rect x="118" y="112" width="3" height="1" fill="#fff"/>
<rect x="127" y="101" width="1" height="16" fill="#000"/>
<rect x="125" y="105" width="5" height="11" fill="#000"/>
<rect x="126" y="106" width="3" height="9" fill="#fff"/>
<rect x="135" y="103" width="1" height="20" fill="#000"/>
<rect x="133" y="105" width="5" height="16" fill="#000"/>
<rect x="143" y="101" width="1" height="15" fill="#000"/>
<rect x="141" y="103" width="5" height="6" fill="#000"/>
<rect x="142" y="104" width="3" height="4" fill="#fff"/>
<rect x="151" y="102" width="1" height="5" fill="#000"/>
<rect x="149" y="103" width="5" height="2" fill="#000"/>
<rect x="159" y="95" width="1" height="48" fill="#000"/>
<rect x="157" y="95" width="5" height="33" fill="#000"/>
<rect x="167" y="120" width="1" height="15" fill="#000"/>
<rect x="165" y="127" width="5" height="3" fill="#000"/>
<rect x="175" y="123" width="1" height="13" fill="#000"/>
<rect x="173" y="127" width="5" height="4" fill="#000"/>
<rect x="183" y="128" width="1" height="15" fill="#000"/>
<rect x="181" y="131" width="5" height="11" fill="#000"/>
<rect x="191" y="134" width="1" height="33" fill="#000"/>
<rect x="189" y="137" width="5" height="26" fill="#000"/>
<rect x="190" y="138" width="3" height="24" fill="#fff"/>
<rect x="199" y="133" width="1" height="13" fill="#000"/>
<rect x="197" y="135" width="5" height="3" fill="#000"/>
<rect x="198" y="136" width="3" height="1" fill="#fff"/>
<rect x="207" y="107" width="1" height="30" fill="#000"/>
<rect x="205" y="116" width="5" height="14" fill="#000"/>
<rect x="206" y="117" width="3" height="12" fill="#fff"/>
<rect x="215" y="105" width="1" height="16" fill="#000"/>
<rect x="213" y="107" width="5" height="10" fill="#000"/>
<rect x="214" y="108" width="3" height="8" fill="#fff"/>
<rect x="223" y="128" width="1" height="21" fill="#000"/>
<rect x="221" y="131" width="5" height="13" fill="#000"/>
<rect x="231" y="133" width="1" height="20" fill="#000"/>
<rect x="229" y="136" width="5" height="7" fill="#000"/>
<rect x="230" y="137" width="3" height="5" fill="#fff"/>
<rect x="239" y="126" width="1" height="24" fill="#000"/>
<rect x="237" y="127" width="5" height="13" fill="#000"/>
<rect x="247" y="137" width="1" height="23" fill="#000"/>
<rect x="245" y="138" width="5" height="19" fill="#000"/>
<rect x="255" y="111" width="1" height="35" fill="#000"/>
<rect x="253" y="115" width="5" height="28" fill="#000"/>
<rect x="254" y="116" width="3" height="26" fill="#fff"/>
<rect x="263" y="98" width="1" height="21" fill="#000"/>
<rect x="261" y="109" width="5" height="7" fill="#000"/>
<rect x="262" y="110" width="3" height="5" fill="#fff"/>
<rect x="271" y="90" width="1" height="23" fill="#000"/>
<rect x="269" y="103" width="5" height="9" fill="#000"/>
<rect x="270" y="104" width="3" height="7" fill="#fff"/>
<rect x="279" y="96" width="1" height="10" fill="#000"/>
<rect x="277" y="100" width="5" height="4" fill="#000"/>
<rect x="278" y="101" width="3" height="2" fill="#fff"/>
<rect x="287" y="76" width="1" height="27" fill="#000"/>
<rect x="285" y="77" width="5" height="24" fill="#000"/>
<rect x="286" y="78" width="3" height="22" fill="#fff"/>
<rect x="295" y="70" width="1" height="11" fill="#000"/>
<rect x="293" y="73" width="5" height="6" fill="#000"/>
<rect x="294" y="74" width="3" height="4" fill="#fff"/>
<rect x="303" y="63" width="1" height="18" fill="#000"/>
<rect x="301" y="72" width="5" height="4" fill="#000"/>
<rect x="302" y="73" width="3" height="2" fill="#fff"/>
<rect x="311" y="70" width="1" height="26" fill="#000"/>
<rect x="309" y="71" width="5" height="22" fill="#000"/>
<rect x="319" y="89" width="1" height="16" fill="#000"/>
<rect x="317" y="92" width="5" height="7" fill="#000"/>
<rect x="327" y="82" width="1" height="25" fill="#000"/>
<rect x="325" y="91" width="5" height="9" fill="#000"/>
<rect x="335" y="96" width="1" height="24" fill="#000"/>
<rect x="333" y="99" width="5" height="20" fill="#000"/>
<rect x="343" y="105" width="1" height="56" fill="#000"/>
<rect x="341" y="114" width="5" height="43" fill="#000"/>
<rect x="351" y="150" width="1" height="17" fill="#000"/>
<rect x="349" y="156" width="5" height="6" fill="#000"/>
<rect x="359" y="151" width="1" height="32" fill="#000"/>
<rect x="357" y="157" width="5" height="8" fill="#000"/>
<rect x="367" y="163" width="1" height="12" fill="#000"/>
<rect x="365" y="164" width="5" height="3" fill="#000"/>
<rect x="375" y="164" width="1" height="28" fill="#000"/>
<rect x="373" y="168" width="5" height="17" fill="#000"/>
<rect x="383" y="170" width="1" height="18" fill="#000"/>
<rect x="381" y="179" width="5" height="7" fill="#000"/>
<rect x="382" y="180" width="3" height="5" fill="#fff"/>
<rect x="391" y="181" width="1" height="20" fill="#000"/>
<rect x="389" y="187" width="5" height="5" fill="#000"/>
<rect x="390" y="188" width="3" height="3" fill="#fff"/>
<rect x="399" y="176" width="1" height="23" fill="#000"/>
<rect x="397" y="182" width="5" height="8" fill="#000"/>
<rect x="398" y="183" width="3" height="6" fill="#fff"/>
<rect x="407" y="184" width="1" height="50" fill="#000"/>
<rect x="405" y="186" width="5" height="44" fill="#000"/>
<rect x="415" y="229" width="1" height="28" fill="#000"/>
<rect x="413" y="230" width="5" height="26" fill="#000"/>
<rect x="423" y="233" width="1" height="43" fill="#000"/>
<rect x="421" y="239" width="5" height="22" fill="#000"/>
<rect x="422" y="240" width="3" height="20" fill="#fff"/>
<rect x="431" y="226" width="1" height="16" fill="#000"/>
<rect x="429" y="239" width="5" height="3" fill="#000"/>
<rect x="439" y="204" width="1" height="28" fill="#000"/>
<rect x="437" y="209" width="5" height="12" fill="#000"/>
<rect x="447" y="216" width="1" height="13" fill="#000"/>
<rect x="445" y="215" width="5" height="6" fill="#000"/>
<rect x="446" y="216" width="3" height="4" fill="#fff"/>
<rect x="455" y="172" width="1" height="39" fill="#000"/>
<rect x="453" y="175" width="5" height="33" fill="#000"/>
<rect x="454" y="176" width="3" height="31" fill="#fff"/>
<rect x="463" y="175" width="1" height="13" fill="#000"/>
<rect x="461" y="176" width="5" height="9" fill="#000"/>
<rect x="471" y="184" width="1" height="21" fill="#000"/>
<rect x="469" y="191" width="5" height="6" fill="#000"/>
<rect x="479" y="188" width="1" height="14" fill="#000"/>
<rect x="477" y="194" width="5" height="5" fill="#000"/>
<rect x="478" y="195" width="3" height="3" fill="#fff"/>
<rect x="487" y="158" width="1" height="48" fill="#000"/>
<rect x="485" y="163" width="5" height="42" fill="#000"/>
<rect x="486" y="164" width="3" height="40" fill="#fff"/>
<rect x="495" y="158" width="1" height="22" fill="#000"/>
<rect x="493" y="164" width="5" height="10" fill="#000"/>
<rect x="503" y="162" width="1" height="30" fill="#000"/>
<rect x="501" y="166" width="5" height="25" fill="#000"/>
<rect x="502" y="167" width="3" height="23" fill="#fff"/>
<rect x="511" y="155" width="1" height="20" fill="#000"/>
<rect x="509" y="166" width="5" height="7" fill="#000"/>
<rect x="519" y="196" width="1" height="36" fill="#000"/>
<rect x="517" y="200" width="5" height="18" fill="#000"/>
<rect x="527" y="213" width="1" height="15" fill="#000"/>
<rect x="525" y="219" width="5" height="4" fill="#000"/>
<rect x="535" y="216" width="1" height="40" fill="#000"/>
<rect x="533" y="232" width="5" height="18" fill="#000"/>
<rect x="543" y="234" width="1" height="20" fill="#000"/>
<rect x="541" y="242" width="5" height="8" fill="#000"/>
<rect x="542" y="243" width="3" height="6" fill="#fff"/>
<rect x="551" y="228" width="1" height="43" fill="#000"/>
<rect x="549" y="234" width="5" height="19" fill="#000"/>
<rect x="559" y="243" width="1" height="18" fill="#000"/>
<rect x="557" y="242" width="5" height="12" fill="#000"/>
<rect x="558" y="243" width="3" height="10" fill="#fff"/>
<rect x="567" y="195" width="1" height="32" fill="#000"/>
<rect x="565" y="200" width="5" height="26" fill="#000"/>
<rect x="566" y="201" width="3" height="24" fill="#fff"/>
<rect x="575" y="198" width="1" height="11" fill="#000"/>
<rect x="573" y="200" width="5" height="1" fill="#000"/>
<rect x="583" y="200" width="1" height="29" fill="#000"/>
<rect x="581" y="200" width="5" height="25" fill="#000"/>
<rect x="591" y="224" width="1" height="22" fill="#000"/>
<rect x="589" y="225" width="5" height="15" fill="#000"/>
<rect x="599" y="272" width="1" height="38" fill="#000"/>
<rect x="597" y="272" width="5" height="33" fill="#000"/>
<rect x="607" y="305" width="1" height="38" fill="#000"/>
<rect x="605" y="305" width="5" height="36" fill="#000"/>
<rect x="615" y="322" width="1" height="55" fill="#000"/>
<rect x="613" y="343" width="5" height="14" fill="#000"/>
<rect x="623" y="356" width="1" height="109" fill="#000"/>
<rect x="621" y="356" width="5" height="81" fill="#000"/>
<rect x="631" y="395" width="1" height="57" fill="#000"/>
<rect x="629" y="414" width="5" height="29" fill="#000"/>
<rect x="639" y="404" width="1" height="56" fill="#000"/>
<rect x="637" y="414" width="5" height="31" fill="#000"/>
<rect x="638" y="415" width="3" height="29" fill="#fff"/>
<rect x="647" y="339" width="1" height="36" fill="#000"/>
<rect x="645" y="347" width="5" height="1" fill="#000"/>
<rect x="655" y="329" width="1" height="22" fill="#000"/>
<rect x="653" y="334" width="5" height="14" fill="#000"/>
<rect x="654" y="335" width="3" height="12" fill="#fff"/>
<rect x="663" y="345" width="1" height="38" fill="#000"/>
<rect x="661" y="363" width="5" height="17" fill="#000"/>
<rect x="671" y="359" width="1" height="33" fill="#000"/>
<rect x="669" y="361" width="5" height="24" fill="#000"/>
<rect x="670" y="362" width="3" height="22" fill="#fff"/>
<rect x="679" y="331" width="1" height="51" fill="#000"/>
<rect x="677" y="341" width="5" height="14" fill="#000"/>
<rect x="678" y="342" width="3" height="12" fill="#fff"/>
<rect x="687" y="331" width="1" height="18" fill="#000"/>
<rect x="685" y="341" width="5" height="1" fill="#000"/>
<rect x="695" y="337" width="1" height="42" fill="#000"/>
<rect x="693" y="340" width="5" height="21" fill="#000"/>
<rect x="703" y="335" width="1" height="25" fill="#000"/>
<rect x="701" y="347" width="5" height="13" fill="#000"/>
<rect x="702" y="348" width="3" height="11" fill="#fff"/>
<rect x="711" y="300" width="1" height="59" fill="#000"/>
<rect x="709" y="304" width="5" height="47" fill="#000"/>
<rect x="710" y="305" width="3" height="45" fill="#fff"/>
<rect x="719" y="304" width="1" height="23" fill="#000"/>
<rect x="717" y="304" width="5" height="17" fill="#000"/>
<rect x="727" y="309" width="1" height="25" fill="#000"/>
<rect x="725" y="321" width="5" height="5" fill="#000"/>
<rect x="735" y="319" width="1" height="29" fill="#000"/>
<rect x="733" y="325" width="5" height="17" fill="#000"/>
<rect x="743" y="331" width="1" height="31" fill="#000"/>
<rect x="741" y="333" width="5" height="8" fill="#000"/>
<rect x="751" y="333" width="1" height="16" fill="#000"/>
<rect x="749" y="340" width="5" height="2" fill="#000"/>
<rect x="759" y="310" width="1" height="59" fill="#000"/>
<rect x="757" y="320" width="5" height="42" fill="#000"/>
<rect x="758" y="321" width="3" height="40" fill="#fff"/>
<rect x="767" y="320" width="1" height="19" fill="#000"/>
<rect x="765" y="320" width="5" height="14" fill="#000"/>
<rect x="775" y="316" width="1" height="34" fill="#000"/>
<rect x="773" y="317" width="5" height="12" fill="#000"/>
<rect x="783" y="306" width="1" height="25" fill="#000"/>
<rect x="781" y="310" width="5" height="19" fill="#000"/>
<rect x="782" y="311" width="3" height="17" fill="#fff"/>
<rect x="791" y="288" width="1" height="38" fill="#000"/>
<rect x="789" y="303" width="5" height="16" fill="#000"/>
<rect x="790" y="304" width="3" height="14" fill="#fff"/>
<rect x="799" y="301" width="1" height="10" fill="#000"/>
<rect x="797" y="304" width="5" height="1" fill="#000"/>
<rect x="807" y="297" width="1" height="18" fill="#000"/>
<rect x="805" y="304" width="5" height="3" fill="#000"/>
<rect x="806" y="305" width="3" height="1" fill="#fff"/>
<rect x="815" y="303" width="1" height="23" fill="#000"/>
<rect x="813" y="305" width="5" height="13" fill="#000"/>
<rect x="823" y="312" width="1" height="34" fill="#000"/>
<rect x="821" y="332" width="5" height="4" fill="#000"/>
<rect x="822" y="333" width="3" height="2" fill="#fff"/>
<rect x="831" y="322" width="1" height="20" fill="#000"/>
<rect x="829" y="324" width="5" height="9" fill="#000"/>
<rect x="830" y="325" width="3" height="7" fill="#fff"/>
<rect x="839" y="318" width="1" height="32" fill="#000"/>
<rect x="837" y="320" width="5" height="20" fill="#000"/>
<rect x="847" y="336" width="1" height="18" fill="#000"/>
<rect x="845" y="339" width="5" height="6" fill="#000"/>
<rect x="855" y="334" width="1" height="26" fill="#000"/>
<rect x="853" y="344" width="5" height="13" fill="#000"/>
<rect x="863" y="356" width="1" height="37" fill="#000"/>
<rect x="861" y="356" width="5" height="25" fill="#000"/>
<rect x="871" y="360" width="1" height="24" fill="#000"/>
<rect x="869" y="364" width="5" height="17" fill="#000"/>
<rect x="870" y="365" width="3" height="15" fill="#fff"/>
<rect x="879" y="356" width="1" height="21" fill="#000"/>
<rect x="877" y="365" width="5" height="10" fill="#000"/>
<rect x="887" y="371" width="1" height="42" fill="#000"/>
<rect x="885" y="376" width="5" height="33" fill="#000"/>
<rect x="895" y="393" width="1" height="35" fill="#000"/>
<rect x="893" y="409" width="5" height="14" fill="#000"/>
<rect x="903" y="409" width="1" height="72" fill="#000"/>
<rect x="901" y="411" width="5" height="57" fill="#000"/>
<rect x="911" y="446" width="1" height="33" fill="#000"/>
<rect x="909" y="461" width="5" height="8" fill="#000"/>
<rect x="910" y="462" width="3" height="6" fill="#fff"/>
<rect x="919" y="402" width="1" height="35" fill="#000"/>
<rect x="917" y="414" width="5" height="24" fill="#000"/>
<rect x="918" y="415" width="3" height="22" fill="#fff"/>
<rect x="927" y="412" width="1" height="28" fill="#000"/>
<rect x="925" y="414" width="5" height="19" fill="#000"/>
<rect x="935" y="389" width="1" height="24" fill="#000"/>
<rect x="933" y="398" width="5" height="10" fill="#000"/>
<rect x="934" y="399" width="3" height="8" fill="#fff"/>
<rect x="943" y="378" width="1" height="24" fill="#000"/>
<rect x="941" y="384" width="5" height="16" fill="#000"/>
<rect x="942" y="385" width="3" height="14" fill="#fff"/>
<rect x="951" y="356" width="1" height="38" fill="#000"/>
<rect x="949" y="375" width="5" height="11" fill="#000"/>
<rect x="959" y="378" width="1" height="16" fill="#000"/>
<rect x="957" y="380" width="5" height="8" fill="#000"/>
<rect x="958" y="381" width="3" height="6" fill="#fff"/>
<rect x="967" y="380" width="1" height="36" fill="#000"/>
<rect x="965" y="390" width="5" height="24" fill="#000"/>
<rect x="975" y="403" width="1" height="18" fill="#000"/>
<rect x="973" y="403" width="5" height="11" fill="#000"/>
<rect x="974" y="404" width="3" height="9" fill="#fff"/>
<rect x="983" y="392" width="1" height="31" fill="#000"/>
<rect x="981" y="403" width="5" height="17" fill="#000"/>
<rect x="982" y="404" width="3" height="15" fill="#fff"/>
<rect x="991" y="403" width="1" height="20" fill="#000"/>
<rect x="989" y="403" width="5" height="15" fill="#000"/>
<rect x="999" y="402" width="1" height="31" fill="#000"/>
<rect x="997" y="410" width="5" height="3" fill="#000"/>
<rect x="998" y="411" width="3" height="1" fill="#fff"/>
<rect x="1007" y="398" width="1" height="21" fill="#000"/>
<rect x="1005" y="404" width="5" height="7" fill="#000"/>
<rect x="1006" y="405" width="3" height="5" fill="#fff"/>
<rect x="1015" y="402" width="1" height="39" fill="#000"/>
<rect x="1013" y="406" width="5" height="29" fill="#000"/>
<rect x="1023" y="371" width="1" height="61" fill="#000"/>
<rect x="1021" y="374" width="5" height="59" fill="#000"/>
<rect x="1022" y="375" width="3" height="57" fill="#fff"/>
<rect x="1031" y="354" width="1" height="37" fill="#000"/>
<rect x="1029" y="360" width="5" height="23" fill="#000"/>
<rect x="1030" y="361" width="3" height="21" fill="#fff"/>
<rect x="1039" y="355" width="1" height="12" fill="#000"/>
<rect x="1037" y="359" width="5" height="2" fill="#000"/>
<rect x="1047" y="328" width="1" height="32" fill="#000"/>
<rect x="1045" y="348" width="5" height="7" fill="#000"/>
<rect x="1055" y="348" width="1" height="14" fill="#000"/>
<rect x="1053" y="350" width="5" height="4" fill="#000"/>
<rect x="1054" y="351" width="3" height="2" fill="#fff"/>
<rect x="1063" y="354" width="1" height="23" fill="#000"/>
<rect x="1061" y="362" width="5" height="3" fill="#000"/>
<rect x="1071" y="362" width="1" height="14" fill="#000"/>
<rect x="1069" y="365" width="5" height="1" fill="#000"/>
<rect x="1079" y="348" width="1" height="30" fill="#000"/>
<rect x="1077" y="355" width="5" height="14" fill="#000"/>
<rect x="1078" y="356" width="3" height="12" fill="#fff"/>
<rect x="1087" y="342" width="1" height="17" fill="#000"/>
<rect x="1085" y="345" width="5" height="12" fill="#000"/>
<rect x="1086" y="346" width="3" height="10" fill="#fff"/>
<rect x="1095" y="318" width="1" height="32" fill="#000"/>
<rect x="1093" y="330" width="5" height="11" fill="#000"/>
<rect x="1094" y="331" width="3" height="9" fill="#fff"/>
<rect x="1103" y="317" width="1" height="18" fill="#000"/>
<rect x="1101" y="331" width="5" height="2" fill="#000"/>
<rect x="1111" y="310" width="1" height="36" fill="#000"/>
<rect x="1109" y="329" width="5" height="13" fill="#000"/>
<rect x="1119" y="330" width="1" height="11" fill="#000"/>
<rect x="1117" y="333" width="5" height="9" fill="#000"/>
<rect x="1118" y="334" width="3" height="7" fill="#fff"/>
<rect x="1127" y="347" width="1" height="23" fill="#000"/>
<rect x="1125" y="360" width="5" height="6" fill="#000"/>
<rect x="1135" y="366" width="1" height="24" fill="#000"/>
<rect x="1133" y="366" width="5" height="19" fill="#000"/>
<rect x="1143" y="340" width="1" height="33" fill="#000"/>
<rect x="1141" y="343" width="5" height="27" fill="#000"/>
<rect x="1142" y="344" width="3" height="25" fill="#fff"/>
<rect x="1151" y="336" width="1" height="14" fill="#000"/>
<rect x="1149" y="339" width="5" height="5" fill="#000"/>
<rect x="1150" y="340" width="3" height="3" fill="#fff"/>
<rect x="1159" y="359" width="1" height="26" fill="#000"/>
<rect x="1157" y="359" width="5" height="25" fill="#000"/>
<rect x="1167" y="370" width="1" height="24" fill="#000"/>
<rect x="1165" y="370" width="5" height="15" fill="#000"/>
<rect x="1166" y="371" width="3" height="13" fill="#fff"/>
<rect x="1175" y="362" width="1" height="27" fill="#000"/>
<rect x="1173" y="370" width="5" height="5" fill="#000"/>
<rect x="1183" y="373" width="1" height="40" fill="#000"/>
<rect x="1181" y="374" width="5" height="27" fill="#000"/>
<rect x="1191" y="405" width="1" height="28" fill="#000"/>
<rect x="1189" y="412" width="5" height="6" fill="#000"/>
<rect x="1199" y="417" width="1" height="26" fill="#000"/>
<rect x="1197" y="417" width="5" height="21" fill="#000"/>
<rect x="1207" y="436" width="1" height="49" fill="#000"/>
<rect x="1205" y="442" width="5" height="43" fill="#000"/>
<rect x="1215" y="470" width="1" height="18" fill="#000"/>
<rect x="1213" y="472" width="5" height="12" fill="#000"/>
<rect x="1214" y="473" width="3" height="10" fill="#fff"/>
<rect x="1223" y="457" width="1" height="38" fill="#000"/>
<rect x="1221" y="464" width="5" height="9" fill="#000"/>
<rect x="1222" y="465" width="3" height="7" fill="#fff"/>
<rect x="1231" y="448" width="1" height="23" fill="#000"/>
<rect x="1229" y="452" width="5" height="13" fill="#000"/>
<rect x="1230" y="453" width="3" height="11" fill="#fff"/>
<rect x="1239" y="467" width="1" height="79" fill="#000"/>
<rect x="1237" y="472" width="5" height="66" fill="#000"/>
<rect x="1247" y="517" width="1" height="23" fill="#000"/>
<rect x="1245" y="525" width="5" height="14" fill="#000"/>
<rect x="1246" y="526" width="3" height="12" fill="#fff"/>
<rect x="1255" y="514" width="1" height="37" fill="#000"/>
<rect x="1253" y="530" width="5" height="6" fill="#000"/>
<rect x="1254" y="531" width="3" height="4" fill="#fff"/>
<rect x="1263" y="507" width="1" height="34" fill="#000"/>
<rect x="1261" y="514" width="5" height="18" fill="#000"/>
<rect x="1262" y="515" width="3" height="16" fill="#fff"/>
<rect x="1271" y="460" width="1" height="41" fill="#000"/>
<rect x="1269" y="490" width="5" height="8" fill="#000"/>
<rect x="1279" y="484" width="1" height="22" fill="#000"/>
<rect x="1277" y="484" width="5" height="13" fill="#000"/>
<rect x="1278" y="485" width="3" height="11" fill="#fff"/>
<rect x="1287" y="477" width="1" height="29" fill="#000"/>
<rect x="1285" y="482" width="5" height="17" fill="#000"/>
<rect x="1286" y="483" width="3" height="15" fill="#fff"/>
<rect x="1295" y="484" width="1" height="44" fill="#000"/>
<rect x="1293" y="484" width="5" height="33" fill="#000"/>
<rect x="1303" y="489" width="1" height="41" fill="#000"/>
<rect x="1301" y="507" width="5" height="24" fill="#000"/>
<rect x="1302" y="508" width="3" height="22" fill="#fff"/>
<rect x="1311" y="498" width="1" height="23" fill="#000"/>
<rect x="1309" y="508" width="5" height="8" fill="#000"/>
<rect x="1319" y="474" width="1" height="43" fill="#000"/>
<rect x="1317" y="484" width="5" height="30" fill="#000"/>
<rect x="1318" y="485" width="3" height="28" fill="#fff"/>
<rect x="1327" y="473" width="1" height="25" fill="#000"/>
<rect x="1325" y="490" width="5" height="1" fill="#000"/>
<rect x="1335" y="494" width="1" height="38" fill="#000"/>
<rect x="1333" y="502" width="5" height="5" fill="#000"/>
<rect x="1334" y="503" width="3" height="3" fill="#fff"/>
<rect x="1343" y="471" width="1" height="34" fill="#000"/>
<rect x="1341" y="484" width="5" height="17" fill="#000"/>
<rect x="1342" y="485" width="3" height="15" fill="#fff"/>
<rect x="1351" y="489" width="1" height="17" fill="#000"/>
<rect x="1349" y="494" width="5" height="3" fill="#000"/>
<rect x="1350" y="495" width="3" height="1" fill="#fff"/>
<rect x="1359" y="475" width="1" height="19" fill="#000"/>
<rect x="1357" y="484" width="5" height="10" fill="#000"/>
<rect x="1358" y="485" width="3" height="8" fill="#fff"/>
<rect x="1367" y="494" width="1" height="51" fill="#000"/>
<rect x="1365" y="501" width="5" height="34" fill="#000"/>
<rect x="1375" y="523" width="1" height="20" fill="#000"/>
<rect x="1373" y="531" width="5" height="2" fill="#000"/>
<rect x="1383" y="520" width="1" height="42" fill="#000"/>
<rect x="1381" y="521" width="5" height="22" fill="#000"/>
<rect x="1382" y="522" width="3" height="20" fill="#fff"/>
<rect x="1391" y="515" width="1" height="18" fill="#000"/>
<rect x="1389" y="523" width="5" height="3" fill="#000"/>
<rect x="1399" y="512" width="1" height="42" fill="#000"/>
<rect x="1397" y="512" width="5" height="25" fill="#000"/>
<rect x="1407" y="522" width="1" height="22" fill="#000"/>
<rect x="1405" y="534" width="5" height="5" fill="#000"/>
<rect x="1406" y="535" width="3" height="3" fill="#fff"/>
<rect x="1415" y="486" width="1" height="25" fill="#000"/>
<rect x="1413" y="486" width="5" height="25" fill="#000"/>
<rect x="1414" y="487" width="3" height="23" fill="#fff"/>
<rect x="1423" y="467" width="1" height="19" fill="#000"/>
<rect x="1421" y="474" width="5" height="13" fill="#000"/>
<rect x="1422" y="475" width="3" height="11" fill="#fff"/>
</g>
<g shape-rendering="crispEdges"><rect x="1279" y="480" width="185" height="10" fill="#00ff00"/></g>
<g shape-rendering="crispEdges">
<rect x="1645.5" y="433.5" width="4" height="4" fill="#fff" stroke="#ff0000" stroke-width="1"/>
<rect x="1645.5" y="452.5" width="4" height="4" fill="#fff" stroke="#ff0000" stroke-width="1"/>
<rect x="1645.5" y="485.5" width="4" height="4" fill="#fff" stroke="#32cd32" stroke-width="1"/>
<rect x="1645.5" y="504.5" width="4" height="4" fill="#fff" stroke="#0000ff" stroke-width="1"/>
<rect x="1645.5" y="527.5" width="4" height="4" fill="#fff" stroke="#0000ff" stroke-width="1"/>
</g>
<g shape-rendering="crispEdges">
<rect x="0" y="22" width="1651" height="1" fill="#000"/>
<rect x="1650" y="22" width="1" height="902" fill="#000"/>
<rect x="0" y="575" width="1651" height="1" fill="#000"/>
<rect x="0" y="577" width="1651" height="1" fill="#000"/>
<rect x="0" y="747" width="1651" height="1" fill="#000"/>
<rect x="0" y="749" width="1651" height="1" fill="#000"/>
<rect x="0" y="923" width="1651" height="1" fill="#000"/>
<rect x="0" y="576" width="1651" height="1" fill="#fff"/>
<rect x="0" y="748" width="1651" height="1" fill="#fff"/>
</g>
<g font-family="Liberation Sans, Arial, sans-serif">
<g shape-rendering="crispEdges">
<rect x="1651" y="44" width="2" height="1" fill="#000"/>
<rect x="1651" y="76" width="2" height="1" fill="#000"/>
<rect x="1651" y="110" width="2" height="1" fill="#000"/>
<rect x="1651" y="143" width="2" height="1" fill="#000"/>
<rect x="1651" y="176" width="2" height="1" fill="#000"/>
<rect x="1651" y="209" width="2" height="1" fill="#000"/>
<rect x="1651" y="242" width="2" height="1" fill="#000"/>
<rect x="1651" y="275" width="2" height="1" fill="#000"/>
<rect x="1651" y="308" width="2" height="1" fill="#000"/>
<rect x="1651" y="342" width="2" height="1" fill="#000"/>
<rect x="1651" y="374" width="2" height="1" fill="#000"/>
<rect x="1651" y="407" width="2" height="1" fill="#000"/>
<rect x="1651" y="441" width="2" height="1" fill="#000"/>
<rect x="1651" y="473" width="2" height="1" fill="#000"/>
<rect x="1651" y="507" width="2" height="1" fill="#000"/>
<rect x="1651" y="540" width="2" height="1" fill="#000"/>
<rect x="1651" y="572" width="2" height="1" fill="#000"/>
</g>
<text x="1656" y="48" font-size="10.3" fill="#000" stroke="#000" stroke-width="0.35" text-anchor="start" textLength="33" lengthAdjust="spacingAndGlyphs">29447.0</text>
<text x="1656" y="80" font-size="10.3" fill="#000" stroke="#000" stroke-width="0.35" text-anchor="start" textLength="33" lengthAdjust="spacingAndGlyphs">29084.0</text>
<text x="1656" y="114" font-size="10.3" fill="#000" stroke="#000" stroke-width="0.35" text-anchor="start" textLength="33" lengthAdjust="spacingAndGlyphs">28710.0</text>
<text x="1656" y="147" font-size="10.3" fill="#000" stroke="#000" stroke-width="0.35" text-anchor="start" textLength="33" lengthAdjust="spacingAndGlyphs">28336.0</text>
<text x="1656" y="180" font-size="10.3" fill="#000" stroke="#000" stroke-width="0.35" text-anchor="start" textLength="33" lengthAdjust="spacingAndGlyphs">27973.0</text>
<text x="1656" y="213" font-size="10.3" fill="#000" stroke="#000" stroke-width="0.35" text-anchor="start" textLength="33" lengthAdjust="spacingAndGlyphs">27599.0</text>
<text x="1656" y="246" font-size="10.3" fill="#000" stroke="#000" stroke-width="0.35" text-anchor="start" textLength="33" lengthAdjust="spacingAndGlyphs">27225.0</text>
<text x="1656" y="279" font-size="10.3" fill="#000" stroke="#000" stroke-width="0.35" text-anchor="start" textLength="33" lengthAdjust="spacingAndGlyphs">26862.0</text>
<text x="1656" y="312" font-size="10.3" fill="#000" stroke="#000" stroke-width="0.35" text-anchor="start" textLength="33" lengthAdjust="spacingAndGlyphs">26488.0</text>
<text x="1656" y="346" font-size="10.3" fill="#000" stroke="#000" stroke-width="0.35" text-anchor="start" textLength="33" lengthAdjust="spacingAndGlyphs">26114.0</text>
<text x="1656" y="378" font-size="10.3" fill="#000" stroke="#000" stroke-width="0.35" text-anchor="start" textLength="33" lengthAdjust="spacingAndGlyphs">25751.0</text>
<text x="1656" y="411" font-size="10.3" fill="#000" stroke="#000" stroke-width="0.35" text-anchor="start" textLength="33" lengthAdjust="spacingAndGlyphs">25377.0</text>
<text x="1656" y="445" font-size="10.3" fill="#000" stroke="#000" stroke-width="0.35" text-anchor="start" textLength="33" lengthAdjust="spacingAndGlyphs">25003.0</text>
<text x="1656" y="544" font-size="10.3" fill="#000" stroke="#000" stroke-width="0.35" text-anchor="start" textLength="33" lengthAdjust="spacingAndGlyphs">23892.0</text>
<text x="1656" y="576" font-size="10.3" fill="#000" stroke="#000" stroke-width="0.35" text-anchor="start" textLength="33" lengthAdjust="spacingAndGlyphs">23529.0</text>
<g shape-rendering="crispEdges">
<rect x="1652" y="429" width="41" height="11" fill="#ff0000"/>
<rect x="1652" y="448" width="41" height="11" fill="#ff0000"/>
<rect x="1652" y="468" width="41" height="11" fill="#000000"/>
<rect x="1652" y="481" width="41" height="11" fill="#32cd32"/>
<rect x="1652" y="500" width="41" height="11" fill="#0000ff"/>
<rect x="1652" y="523" width="41" height="11" fill="#0000ff"/>
</g>
<text x="1656" y="438" font-size="10.3" fill="#fff" stroke="#fff" stroke-width="0.35" text-anchor="start" textLength="33" lengthAdjust="spacingAndGlyphs">25064.9</text>
<text x="1656" y="457" font-size="10.3" fill="#fff" stroke="#fff" stroke-width="0.35" text-anchor="start" textLength="33" lengthAdjust="spacingAndGlyphs">24852.0</text>
<text x="1656" y="477" font-size="10.3" fill="#fff" stroke="#fff" stroke-width="0.35" text-anchor="start" textLength="33" lengthAdjust="spacingAndGlyphs">24623.5</text>
<text x="1656" y="490" font-size="10.3" fill="#fff" stroke="#fff" stroke-width="0.35" text-anchor="start" textLength="33" lengthAdjust="spacingAndGlyphs">24482.2</text>
<text x="1656" y="509" font-size="10.3" fill="#fff" stroke="#fff" stroke-width="0.35" text-anchor="start" textLength="33" lengthAdjust="spacingAndGlyphs">24269.2</text>
<text x="1656" y="532" font-size="10.3" fill="#fff" stroke="#fff" stroke-width="0.35" text-anchor="start" textLength="33" lengthAdjust="spacingAndGlyphs">24007.0</text>
<text x="1654" y="589" font-size="10.3" fill="#000" stroke="#000" stroke-width="0.35" text-anchor="start" textLength="28" lengthAdjust="spacingAndGlyphs">275.75</text>
<text x="1654" y="631" font-size="10.3" fill="#000" stroke="#000" stroke-width="0.35" text-anchor="start" textLength="18" lengthAdjust="spacingAndGlyphs">0.00</text>
<text x="1654" y="745" font-size="10.3" fill="#000" stroke="#000" stroke-width="0.35" text-anchor="start" textLength="31" lengthAdjust="spacingAndGlyphs">-698.77</text>
<g shape-rendering="crispEdges"><rect x="1651" y="627" width="2" height="1" fill="#000"/></g>
<text x="1654" y="760.5" font-size="10.3" fill="#000" stroke="#000" stroke-width="0.35" text-anchor="start" textLength="15" lengthAdjust="spacingAndGlyphs">100</text>
<text x="1654" y="789" font-size="10.3" fill="#000" stroke="#000" stroke-width="0.35" text-anchor="start" textLength="10" lengthAdjust="spacingAndGlyphs">80</text>
<text x="1654" y="840" font-size="10.3" fill="#000" stroke="#000" stroke-width="0.35" text-anchor="start" textLength="10" lengthAdjust="spacingAndGlyphs">50</text>
<text x="1654" y="901" font-size="10.3" fill="#000" stroke="#000" stroke-width="0.35" text-anchor="start" textLength="10" lengthAdjust="spacingAndGlyphs">15</text>
<text x="1654" y="920.5" font-size="10.3" fill="#000" stroke="#000" stroke-width="0.35" text-anchor="start" textLength="5" lengthAdjust="spacingAndGlyphs">0</text>
<g shape-rendering="crispEdges">
<rect x="55" y="924" width="1" height="3" fill="#000"/>
<rect x="119" y="924" width="1" height="3" fill="#000"/>
<rect x="183" y="924" width="1" height="3" fill="#000"/>
<rect x="247" y="924" width="1" height="3" fill="#000"/>
<rect x="311" y="924" width="1" height="3" fill="#000"/>
<rect x="375" y="924" width="1" height="3" fill="#000"/>
<rect x="439" y="924" width="1" height="3" fill="#000"/>
<rect x="503" y="924" width="1" height="3" fill="#000"/>
<rect x="567" y="924" width="1" height="3" fill="#000"/>
<rect x="631" y="924" width="1" height="3" fill="#000"/>
<rect x="695" y="924" width="1" height="3" fill="#000"/>
<rect x="759" y="924" width="1" height="3" fill="#000"/>
<rect x="823" y="924" width="1" height="3" fill="#000"/>
<rect x="887" y="924" width="1" height="3" fill="#000"/>
<rect x="951" y="924" width="1" height="3" fill="#000"/>
<rect x="1015" y="924" width="1" height="3" fill="#000"/>
<rect x="1079" y="924" width="1" height="3" fill="#000"/>
<rect x="1143" y="924" width="1" height="3" fill="#000"/>
<rect x="1207" y="924" width="1" height="3" fill="#000"/>
<rect x="1271" y="924" width="1" height="3" fill="#000"/>
<rect x="1335" y="924" width="1" height="3" fill="#000"/>
<rect x="1399" y="924" width="1" height="3" fill="#000"/>
</g>
<text x="2.5" y="936.2" font-size="10.3" fill="#000" stroke="#000" stroke-width="0.35" text-anchor="start" textLength="41.5" lengthAdjust="spacingAndGlyphs">May 2021</text>
<text x="54.3" y="936.2" font-size="10.3" fill="#000" stroke="#000" stroke-width="0.35" text-anchor="start" textLength="46.49999999999999" lengthAdjust="spacingAndGlyphs">3 Jun 05:00</text>
<text x="118.3" y="936.2" font-size="10.3" fill="#000" stroke="#000" stroke-width="0.35" text-anchor="start" textLength="46.49999999999999" lengthAdjust="spacingAndGlyphs">9 Jun 05:00</text>
<text x="182.3" y="936.2" font-size="10.3" fill="#000" stroke="#000" stroke-width="0.35" text-anchor="start" textLength="52.3" lengthAdjust="spacingAndGlyphs">16 Jun 05:00</text>
<text x="246.3" y="936.2" font-size="10.3" fill="#000" stroke="#000" stroke-width="0.35" text-anchor="start" textLength="52.3" lengthAdjust="spacingAndGlyphs">22 Jun 05:00</text>
<text x="310.3" y="936.2" font-size="10.3" fill="#000" stroke="#000" stroke-width="0.35" text-anchor="start" textLength="52.3" lengthAdjust="spacingAndGlyphs">29 Jun 01:15</text>
<text x="374.3" y="936.2" font-size="10.3" fill="#000" stroke="#000" stroke-width="0.35" text-anchor="start" textLength="44.199999999999996" lengthAdjust="spacingAndGlyphs">6 Jul 01:15</text>
<text x="438.3" y="936.2" font-size="10.3" fill="#000" stroke="#000" stroke-width="0.35" text-anchor="start" textLength="50.0" lengthAdjust="spacingAndGlyphs">12 Jul 01:15</text>
<text x="502.3" y="936.2" font-size="10.3" fill="#000" stroke="#000" stroke-width="0.35" text-anchor="start" textLength="50.0" lengthAdjust="spacingAndGlyphs">16 Jul 01:15</text>
<text x="566.3" y="936.2" font-size="10.3" fill="#000" stroke="#000" stroke-width="0.35" text-anchor="start" textLength="50.0" lengthAdjust="spacingAndGlyphs">22 Jul 01:15</text>
<text x="630.3" y="936.2" font-size="10.3" fill="#000" stroke="#000" stroke-width="0.35" text-anchor="start" textLength="50.0" lengthAdjust="spacingAndGlyphs">28 Jul 01:15</text>
<text x="694.3" y="936.2" font-size="10.3" fill="#000" stroke="#000" stroke-width="0.35" text-anchor="start" textLength="49.599999999999994" lengthAdjust="spacingAndGlyphs">3 Aug 01:15</text>
<text x="758.3" y="936.2" font-size="10.3" fill="#000" stroke="#000" stroke-width="0.35" text-anchor="start" textLength="49.599999999999994" lengthAdjust="spacingAndGlyphs">9 Aug 01:15</text>
<text x="822.3" y="936.2" font-size="10.3" fill="#000" stroke="#000" stroke-width="0.35" text-anchor="start" textLength="55.4" lengthAdjust="spacingAndGlyphs">13 Aug 01:15</text>
<text x="886.3" y="936.2" font-size="10.3" fill="#000" stroke="#000" stroke-width="0.35" text-anchor="start" textLength="55.4" lengthAdjust="spacingAndGlyphs">19 Aug 01:15</text>
<text x="950.3" y="936.2" font-size="10.3" fill="#000" stroke="#000" stroke-width="0.35" text-anchor="start" textLength="55.4" lengthAdjust="spacingAndGlyphs">25 Aug 01:15</text>
<text x="1014.3" y="936.2" font-size="10.3" fill="#000" stroke="#000" stroke-width="0.35" text-anchor="start" textLength="55.4" lengthAdjust="spacingAndGlyphs">31 Aug 01:15</text>
<text x="1078.3" y="936.2" font-size="10.3" fill="#000" stroke="#000" stroke-width="0.35" text-anchor="start" textLength="48.89999999999999" lengthAdjust="spacingAndGlyphs">6 Sep 01:15</text>
<text x="1142.3" y="936.2" font-size="10.3" fill="#000" stroke="#000" stroke-width="0.35" text-anchor="start" textLength="54.699999999999996" lengthAdjust="spacingAndGlyphs">10 Sep 01:15</text>
<text x="1206.3" y="936.2" font-size="10.3" fill="#000" stroke="#000" stroke-width="0.35" text-anchor="start" textLength="54.699999999999996" lengthAdjust="spacingAndGlyphs">16 Sep 01:15</text>
<text x="1270.3" y="936.2" font-size="10.3" fill="#000" stroke="#000" stroke-width="0.35" text-anchor="start" textLength="54.699999999999996" lengthAdjust="spacingAndGlyphs">23 Sep 01:15</text>
<text x="1334.3" y="936.2" font-size="10.3" fill="#000" stroke="#000" stroke-width="0.35" text-anchor="start" textLength="54.699999999999996" lengthAdjust="spacingAndGlyphs">29 Sep 01:15</text>
<text x="1398.3" y="936.2" font-size="10.3" fill="#000" stroke="#000" stroke-width="0.35" text-anchor="start" textLength="48.199999999999996" lengthAdjust="spacingAndGlyphs">6 Oct 01:15</text>
<text x="6" y="34" font-size="10.3" fill="#000" stroke="#000" stroke-width="0.35" text-anchor="start" textLength="188" lengthAdjust="spacingAndGlyphs" xml:space="preserve">HK50-,H4&#160;&#160;24466.0 24706.5 24445.0 24623.5</text>
<text x="-4.2" y="590" font-size="10.3" fill="#000" stroke="#000" stroke-width="0.35" text-anchor="start" textLength="133" lengthAdjust="spacingAndGlyphs">MACD(12,26,9) -167.05 -241.66</text>
<text x="-6.3" y="762" font-size="10.3" fill="#000" stroke="#000" stroke-width="0.35" text-anchor="start" textLength="68.8" lengthAdjust="spacingAndGlyphs">RSI(14) 53.5672</text>
</g>
<g shape-rendering="crispEdges">
<rect x="7" y="592" width="1" height="35" fill="#c0c0c0"/>
<rect x="15" y="591" width="1" height="36" fill="#c0c0c0"/>
<rect x="23" y="590" width="1" height="37" fill="#c0c0c0"/>
<rect x="31" y="589" width="1" height="38" fill="#c0c0c0"/>
<rect x="39" y="589" width="1" height="38" fill="#c0c0c0"/>
<rect x="47" y="590" width="1" height="37" fill="#c0c0c0"/>
<rect x="55" y="596" width="1" height="31" fill="#c0c0c0"/>
<rect x="63" y="599" width="1" height="28" fill="#c0c0c0"/>
<rect x="71" y="604" width="1" height="23" fill="#c0c0c0"/>
<rect x="79" y="610" width="1" height="17" fill="#c0c0c0"/>
<rect x="87" y="614" width="1" height="13" fill="#c0c0c0"/>
<rect x="95" y="618" width="1" height="9" fill="#c0c0c0"/>
<rect x="103" y="621" width="1" height="6" fill="#c0c0c0"/>
<rect x="111" y="623" width="1" height="4" fill="#c0c0c0"/>
<rect x="119" y="625" width="1" height="2" fill="#c0c0c0"/>
<rect x="127" y="625" width="1" height="2" fill="#c0c0c0"/>
<rect x="135" y="626" width="1" height="1" fill="#c0c0c0"/>
<rect x="143" y="626" width="1" height="1" fill="#c0c0c0"/>
<rect x="151" y="626" width="1" height="1" fill="#c0c0c0"/>
<rect x="159" y="626" width="1" height="3" fill="#c0c0c0"/>
<rect x="167" y="626" width="1" height="6" fill="#c0c0c0"/>
<rect x="175" y="626" width="1" height="8" fill="#c0c0c0"/>
<rect x="183" y="626" width="1" height="12" fill="#c0c0c0"/>
<rect x="191" y="626" width="1" height="14" fill="#c0c0c0"/>
<rect x="199" y="626" width="1" height="15" fill="#c0c0c0"/>
<rect x="207" y="626" width="1" height="12" fill="#c0c0c0"/>
<rect x="215" y="626" width="1" height="11" fill="#c0c0c0"/>
<rect x="223" y="626" width="1" height="12" fill="#c0c0c0"/>
<rect x="231" y="626" width="1" height="13" fill="#c0c0c0"/>
<rect x="239" y="626" width="1" height="14" fill="#c0c0c0"/>
<rect x="247" y="626" width="1" height="18" fill="#c0c0c0"/>
<rect x="255" y="626" width="1" height="14" fill="#c0c0c0"/>
<rect x="263" y="626" width="1" height="9" fill="#c0c0c0"/>
<rect x="271" y="626" width="1" height="5" fill="#c0c0c0"/>
<rect x="279" y="626" width="1" height="1" fill="#c0c0c0"/>
<rect x="287" y="622" width="1" height="5" fill="#c0c0c0"/>
<rect x="295" y="616" width="1" height="11" fill="#c0c0c0"/>
<rect x="303" y="612" width="1" height="15" fill="#c0c0c0"/>
<rect x="311" y="611" width="1" height="16" fill="#c0c0c0"/>
<rect x="319" y="612" width="1" height="15" fill="#c0c0c0"/>
<rect x="327" y="613" width="1" height="14" fill="#c0c0c0"/>
<rect x="335" y="617" width="1" height="10" fill="#c0c0c0"/>
<rect x="343" y="626" width="1" height="1" fill="#c0c0c0"/>
<rect x="351" y="626" width="1" height="7" fill="#c0c0c0"/>
<rect x="359" y="626" width="1" height="13" fill="#c0c0c0"/>
<rect x="367" y="626" width="1" height="19" fill="#c0c0c0"/>
<rect x="375" y="626" width="1" height="25" fill="#c0c0c0"/>
<rect x="383" y="626" width="1" height="30" fill="#c0c0c0"/>
<rect x="391" y="626" width="1" height="34" fill="#c0c0c0"/>
<rect x="399" y="626" width="1" height="36" fill="#c0c0c0"/>
<rect x="407" y="626" width="1" height="44" fill="#c0c0c0"/>
<rect x="415" y="626" width="1" height="55" fill="#c0c0c0"/>
<rect x="423" y="626" width="1" height="59" fill="#c0c0c0"/>
<rect x="431" y="626" width="1" height="63" fill="#c0c0c0"/>
<rect x="439" y="626" width="1" height="62" fill="#c0c0c0"/>
<rect x="447" y="626" width="1" height="59" fill="#c0c0c0"/>
<rect x="455" y="626" width="1" height="50" fill="#c0c0c0"/>
<rect x="463" y="626" width="1" height="44" fill="#c0c0c0"/>
<rect x="471" y="626" width="1" height="41" fill="#c0c0c0"/>
<rect x="479" y="626" width="1" height="38" fill="#c0c0c0"/>
<rect x="487" y="626" width="1" height="30" fill="#c0c0c0"/>
<rect x="495" y="626" width="1" height="25" fill="#c0c0c0"/>
<rect x="503" y="626" width="1" height="19" fill="#c0c0c0"/>
<rect x="511" y="626" width="1" height="16" fill="#c0c0c0"/>
<rect x="519" y="626" width="1" height="20" fill="#c0c0c0"/>
<rect x="527" y="626" width="1" height="24" fill="#c0c0c0"/>
<rect x="535" y="626" width="1" height="31" fill="#c0c0c0"/>
<rect x="543" y="626" width="1" height="35" fill="#c0c0c0"/>
<rect x="551" y="626" width="1" height="39" fill="#c0c0c0"/>
<rect x="559" y="626" width="1" height="40" fill="#c0c0c0"/>
<rect x="567" y="626" width="1" height="34" fill="#c0c0c0"/>
<rect x="575" y="626" width="1" height="31" fill="#c0c0c0"/>
<rect x="583" y="626" width="1" height="29" fill="#c0c0c0"/>
<rect x="591" y="626" width="1" height="31" fill="#c0c0c0"/>
<rect x="599" y="626" width="1" height="41" fill="#c0c0c0"/>
<rect x="607" y="626" width="1" height="55" fill="#c0c0c0"/>
<rect x="615" y="626" width="1" height="67" fill="#c0c0c0"/>
<rect x="623" y="626" width="1" height="89" fill="#c0c0c0"/>
<rect x="631" y="626" width="1" height="105" fill="#c0c0c0"/>
<rect x="639" y="626" width="1" height="113" fill="#c0c0c0"/>
<rect x="647" y="626" width="1" height="107" fill="#c0c0c0"/>
<rect x="655" y="626" width="1" height="99" fill="#c0c0c0"/>
<rect x="663" y="626" width="1" height="99" fill="#c0c0c0"/>
<rect x="671" y="626" width="1" height="95" fill="#c0c0c0"/>
<rect x="679" y="626" width="1" height="88" fill="#c0c0c0"/>
<rect x="687" y="626" width="1" height="81" fill="#c0c0c0"/>
<rect x="695" y="626" width="1" height="78" fill="#c0c0c0"/>
<rect x="703" y="626" width="1" height="72" fill="#c0c0c0"/>
<rect x="711" y="626" width="1" height="60" fill="#c0c0c0"/>
<rect x="719" y="626" width="1" height="53" fill="#c0c0c0"/>
<rect x="727" y="626" width="1" height="47" fill="#c0c0c0"/>
<rect x="735" y="626" width="1" height="45" fill="#c0c0c0"/>
<rect x="743" y="626" width="1" height="42" fill="#c0c0c0"/>
<rect x="751" y="626" width="1" height="40" fill="#c0c0c0"/>
<rect x="759" y="626" width="1" height="34" fill="#c0c0c0"/>
<rect x="767" y="626" width="1" height="31" fill="#c0c0c0"/>
<rect x="775" y="626" width="1" height="28" fill="#c0c0c0"/>
<rect x="783" y="626" width="1" height="23" fill="#c0c0c0"/>
<rect x="791" y="626" width="1" height="17" fill="#c0c0c0"/>
<rect x="799" y="626" width="1" height="12" fill="#c0c0c0"/>
<rect x="807" y="626" width="1" height="9" fill="#c0c0c0"/>
<rect x="815" y="626" width="1" height="8" fill="#c0c0c0"/>
<rect x="823" y="626" width="1" height="9" fill="#c0c0c0"/>
<rect x="831" y="626" width="1" height="9" fill="#c0c0c0"/>
<rect x="839" y="626" width="1" height="11" fill="#c0c0c0"/>
<rect x="847" y="626" width="1" height="12" fill="#c0c0c0"/>
<rect x="855" y="626" width="1" height="17" fill="#c0c0c0"/>
<rect x="863" y="626" width="1" height="23" fill="#c0c0c0"/>
<rect x="871" y="626" width="1" height="25" fill="#c0c0c0"/>
<rect x="879" y="626" width="1" height="28" fill="#c0c0c0"/>
<rect x="887" y="626" width="1" height="35" fill="#c0c0c0"/>
<rect x="895" y="626" width="1" height="43" fill="#c0c0c0"/>
<rect x="903" y="626" width="1" height="55" fill="#c0c0c0"/>
<rect x="911" y="626" width="1" height="63" fill="#c0c0c0"/>
<rect x="919" y="626" width="1" height="61" fill="#c0c0c0"/>
<rect x="927" y="626" width="1" height="62" fill="#c0c0c0"/>
<rect x="935" y="626" width="1" height="57" fill="#c0c0c0"/>
<rect x="943" y="626" width="1" height="49" fill="#c0c0c0"/>
<rect x="951" y="626" width="1" height="44" fill="#c0c0c0"/>
<rect x="959" y="626" width="1" height="38" fill="#c0c0c0"/>
<rect x="967" y="626" width="1" height="38" fill="#c0c0c0"/>
<rect x="975" y="626" width="1" height="36" fill="#c0c0c0"/>
<rect x="983" y="626" width="1" height="34" fill="#c0c0c0"/>
<rect x="991" y="626" width="1" height="35" fill="#c0c0c0"/>
<rect x="999" y="626" width="1" height="33" fill="#c0c0c0"/>
<rect x="1007" y="626" width="1" height="31" fill="#c0c0c0"/>
<rect x="1015" y="626" width="1" height="33" fill="#c0c0c0"/>
<rect x="1023" y="626" width="1" height="26" fill="#c0c0c0"/>
<rect x="1031" y="626" width="1" height="17" fill="#c0c0c0"/>
<rect x="1039" y="626" width="1" height="10" fill="#c0c0c0"/>
<rect x="1047" y="626" width="1" height="4" fill="#c0c0c0"/>
<rect x="1055" y="625" width="1" height="2" fill="#c0c0c0"/>
<rect x="1063" y="623" width="1" height="4" fill="#c0c0c0"/>
<rect x="1071" y="621" width="1" height="6" fill="#c0c0c0"/>
<rect x="1079" y="619" width="1" height="8" fill="#c0c0c0"/>
<rect x="1087" y="615" width="1" height="12" fill="#c0c0c0"/>
<rect x="1095" y="610" width="1" height="17" fill="#c0c0c0"/>
<rect x="1103" y="607" width="1" height="20" fill="#c0c0c0"/>
<rect x="1111" y="606" width="1" height="21" fill="#c0c0c0"/>
<rect x="1119" y="604" width="1" height="23" fill="#c0c0c0"/>
<rect x="1127" y="608" width="1" height="19" fill="#c0c0c0"/>
<rect x="1135" y="614" width="1" height="13" fill="#c0c0c0"/>
<rect x="1143" y="612" width="1" height="15" fill="#c0c0c0"/>
<rect x="1151" y="611" width="1" height="16" fill="#c0c0c0"/>
<rect x="1159" y="617" width="1" height="10" fill="#c0c0c0"/>
<rect x="1167" y="619" width="1" height="8" fill="#c0c0c0"/>
<rect x="1175" y="622" width="1" height="5" fill="#c0c0c0"/>
<rect x="1183" y="626" width="1" height="1" fill="#c0c0c0"/>
<rect x="1191" y="626" width="1" height="9" fill="#c0c0c0"/>
<rect x="1199" y="626" width="1" height="18" fill="#c0c0c0"/>
<rect x="1207" y="626" width="1" height="32" fill="#c0c0c0"/>
<rect x="1215" y="626" width="1" height="41" fill="#c0c0c0"/>
<rect x="1223" y="626" width="1" height="46" fill="#c0c0c0"/>
<rect x="1231" y="626" width="1" height="47" fill="#c0c0c0"/>
<rect x="1239" y="626" width="1" height="61" fill="#c0c0c0"/>
<rect x="1247" y="626" width="1" height="69" fill="#c0c0c0"/>
<rect x="1255" y="626" width="1" height="76" fill="#c0c0c0"/>
<rect x="1263" y="626" width="1" height="78" fill="#c0c0c0"/>
<rect x="1271" y="626" width="1" height="76" fill="#c0c0c0"/>
<rect x="1279" y="626" width="1" height="71" fill="#c0c0c0"/>
<rect x="1287" y="626" width="1" height="67" fill="#c0c0c0"/>
<rect x="1295" y="626" width="1" height="68" fill="#c0c0c0"/>
<rect x="1303" y="626" width="1" height="66" fill="#c0c0c0"/>
<rect x="1311" y="626" width="1" height="64" fill="#c0c0c0"/>
<rect x="1319" y="626" width="1" height="60" fill="#c0c0c0"/>
<rect x="1327" y="626" width="1" height="54" fill="#c0c0c0"/>
<rect x="1335" y="626" width="1" height="52" fill="#c0c0c0"/>
<rect x="1343" y="626" width="1" height="47" fill="#c0c0c0"/>
<rect x="1351" y="626" width="1" height="44" fill="#c0c0c0"/>
<rect x="1359" y="626" width="1" height="39" fill="#c0c0c0"/>
<rect x="1367" y="626" width="1" height="43" fill="#c0c0c0"/>
<rect x="1375" y="626" width="1" height="46" fill="#c0c0c0"/>
<rect x="1383" y="626" width="1" height="46" fill="#c0c0c0"/>
<rect x="1391" y="626" width="1" height="44" fill="#c0c0c0"/>
<rect x="1399" y="626" width="1" height="46" fill="#c0c0c0"/>
<rect x="1407" y="626" width="1" height="44" fill="#c0c0c0"/>
<rect x="1415" y="626" width="1" height="37" fill="#c0c0c0"/>
<rect x="1423" y="626" width="1" height="29" fill="#c0c0c0"/>
</g>
<path d="M33 589h3v1h-3zM39 589h3v1h-3zM45 589h3v1h-3zM51 589h3v1h-3zM27 590h3v1h-3zM58 590h2v1h-2zM63 590h3v1h-3zM21 591h3v1h-3zM69 591h3v1h-3zM16 592h2v1h-2zM75 592h2v1h-2zM10 594h2v1h-2zM81 594h2v1h-2zM87 596h2v1h-2zM4 597h2v1h-2zM93 599h2v1h-2zM99 602h2v1h-2zM105 605h2v1h-2zM112 609h2v1h-2zM1140 609h3v1h-3zM1146 609h3v1h-3zM1152 609h3v1h-3zM1158 609h2v1h-2zM1134 610h3v1h-3zM1164 610h3v1h-3zM117 611h2v1h-2zM1128 611h3v1h-3zM1170 611h3v1h-3zM1176 612h3v1h-3zM1122 613h2v1h-2zM124 614h2v1h-2zM1117 614h2v1h-2zM1182 614h3v1h-3zM130 616h2v1h-2zM345 616h3v1h-3zM334 617h2v1h-2zM339 617h2v1h-2zM351 617h3v1h-3zM1110 617h2v1h-2zM1189 617h2v1h-2zM136 618h2v1h-2zM357 618h2v1h-2zM141 619h3v1h-3zM327 619h3v1h-3zM1105 619h2v1h-2zM1195 620h2v1h-2zM148 621h2v1h-2zM322 621h2v1h-2zM364 621h2v1h-2zM153 622h3v1h-3zM1098 622h2v1h-2zM159 623h2v1h-2zM316 623h2v1h-2zM369 623h2v1h-2zM1201 623h2v1h-2zM165 625h3v1h-3zM1092 625h2v1h-2zM171 626h2v1h-2zM309 626h2v1h-2zM376 627h2v1h-2zM1207 627h2v1h-2zM178 628h2v1h-2zM304 628h2v1h-2zM183 629h3v1h-3zM189 630h2v1h-2zM381 630h2v1h-2zM195 631h2v1h-2zM297 631h2v1h-2zM1213 631h2v1h-2zM201 632h3v1h-3zM292 632h2v1h-2zM207 633h3v1h-3zM213 634h3v1h-3zM286 634h2v1h-2zM387 634h2v1h-2zM219 635h3v1h-3zM225 636h3v1h-3zM279 636h3v1h-3zM1074 636h2v1h-2zM231 637h3v1h-3zM273 637h3v1h-3zM237 638h3v1h-3zM267 638h3v1h-3zM852 638h3v1h-3zM858 638h2v1h-2zM244 639h2v1h-2zM249 639h3v1h-3zM255 639h3v1h-3zM261 639h3v1h-3zM846 639h3v1h-3zM864 639h3v1h-3zM1068 639h2v1h-2zM840 640h2v1h-2zM870 640h2v1h-2zM1225 640h2v1h-2zM834 641h3v1h-3zM876 642h3v1h-3zM1063 642h2v1h-2zM399 643h2v1h-2zM828 643h3v1h-3zM882 644h3v1h-3zM823 645h2v1h-2zM1056 646h2v1h-2zM889 647h2v1h-2zM406 648h2v1h-2zM816 648h2v1h-2zM1050 649h2v1h-2zM811 650h2v1h-2zM895 650h2v1h-2zM543 652h3v1h-3zM1044 652h2v1h-2zM537 653h3v1h-3zM549 653h3v1h-3zM805 653h2v1h-2zM901 653h2v1h-2zM531 654h2v1h-2zM556 654h2v1h-2zM561 654h2v1h-2zM1039 654h2v1h-2zM526 655h2v1h-2zM567 655h3v1h-3zM417 656h2v1h-2zM573 656h3v1h-3zM579 656h3v1h-3zM799 656h2v1h-2zM585 657h3v1h-3zM907 657h2v1h-2zM1032 657h3v1h-3zM520 658h2v1h-2zM591 658h3v1h-3zM793 659h2v1h-2zM1026 659h3v1h-3zM598 660h2v1h-2zM514 661h2v1h-2zM913 661h2v1h-2zM1020 661h2v1h-2zM603 662h3v1h-3zM786 662h2v1h-2zM1014 662h3v1h-3zM1009 663h2v1h-2zM508 664h2v1h-2zM918 664h2v1h-2zM610 665h2v1h-2zM780 665h2v1h-2zM1003 665h2v1h-2zM1421 666h3v1h-3zM997 667h2v1h-2zM1415 667h3v1h-3zM501 668h2v1h-2zM616 668h2v1h-2zM774 668h2v1h-2zM924 668h2v1h-2zM1410 668h2v1h-2zM436 669h2v1h-2zM991 670h2v1h-2zM1403 670h3v1h-3zM622 671h2v1h-2zM930 671h2v1h-2zM1397 671h3v1h-3zM442 672h2v1h-2zM768 672h2v1h-2zM1391 672h3v1h-3zM984 673h3v1h-3zM1385 673h3v1h-3zM490 674h2v1h-2zM936 674h2v1h-2zM448 675h2v1h-2zM978 675h2v1h-2zM1379 675h2v1h-2zM453 676h2v1h-2zM628 676h2v1h-2zM762 676h2v1h-2zM942 676h3v1h-3zM972 676h3v1h-3zM1373 676h3v1h-3zM483 677h3v1h-3zM948 677h3v1h-3zM967 677h2v1h-2zM459 678h3v1h-3zM477 678h3v1h-3zM954 678h3v1h-3zM1367 678h3v1h-3zM466 679h2v1h-2zM471 679h3v1h-3zM960 679h3v1h-3zM1361 680h3v1h-3zM1355 682h3v1h-3zM1271 684h2v1h-2zM1349 684h2v1h-2zM1344 686h2v1h-2zM1278 688h2v1h-2zM1337 689h2v1h-2zM1284 691h2v1h-2zM1331 691h3v1h-3zM1290 693h2v1h-2zM1326 693h2v1h-2zM1295 694h3v1h-3zM1301 695h3v1h-3zM1319 695h3v1h-3zM1307 696h3v1h-3zM1313 696h3v1h-3zM732 697h2v1h-2zM661 710h2v1h-2zM715 710h2v1h-2zM708 715h2v1h-2zM672 718h2v1h-2zM703 718h2v1h-2zM678 720h2v1h-2zM696 721h2v1h-2zM684 722h3v1h-3zM690 722h3v1h-3zM912 660h1v1h-1zM804 654h1v1h-1zM1022 660h1v1h-1zM315 624h1v1h-1zM990 671h1v1h-1zM83 595h1v1h-1zM291 633h1v1h-1zM1188 616h1v1h-1zM900 652h1v1h-1zM996 668h1v1h-1zM465 678h1v1h-1zM1046 651h1v1h-1zM455 677h1v1h-1zM393 638h1v1h-1zM752 683h1v1h-1zM243 638h1v1h-1zM423 660h1v1h-1zM1224 639h1v1h-1zM639 687h1v1h-1zM299 630h1v1h-1zM810 651h1v1h-1zM3 598h1v1h-1zM1062 643h1v1h-1zM751 684h1v1h-1zM1277 687h1v1h-1zM609 664h1v1h-1zM728 700h1v1h-1zM401 644h1v1h-1zM764 675h1v1h-1zM634 681h1v1h-1zM431 666h1v1h-1zM1212 630h1v1h-1zM533 653h1v1h-1zM822 646h1v1h-1zM1253 668h1v1h-1zM746 687h1v1h-1zM173 627h1v1h-1zM1283 690h1v1h-1zM1058 645h1v1h-1zM776 667h1v1h-1zM615 667h1v1h-1zM1076 635h1v1h-1zM722 705h1v1h-1zM721 706h1v1h-1zM667 714h1v1h-1zM782 664h1v1h-1zM9 595h1v1h-1zM744 689h1v1h-1zM57 589h1v1h-1zM1088 627h1v1h-1zM720 707h1v1h-1zM674 719h1v1h-1zM359 619h1v1h-1zM303 629h1v1h-1zM1237 652h1v1h-1zM95 600h1v1h-1zM932 672h1v1h-1zM757 680h1v1h-1zM333 618h1v1h-1zM1087 628h1v1h-1zM119 612h1v1h-1zM285 635h1v1h-1zM111 608h1v1h-1zM1260 675h1v1h-1zM906 656h1v1h-1zM788 661h1v1h-1zM1008 664h1v1h-1zM1325 694h1v1h-1zM435 668h1v1h-1zM429 664h1v1h-1zM1261 676h1v1h-1zM1289 692h1v1h-1zM633 680h1v1h-1zM563 655h1v1h-1zM507 665h1v1h-1zM1052 648h1v1h-1zM666 713h1v1h-1zM424 661h1v1h-1zM680 721h1v1h-1zM1112 616h1v1h-1zM107 606h1v1h-1zM1218 634h1v1h-1zM1235 650h1v1h-1zM555 653h1v1h-1zM430 665h1v1h-1zM966 678h1v1h-1zM425 662h1v1h-1zM660 709h1v1h-1zM1206 626h1v1h-1zM745 688h1v1h-1zM842 639h1v1h-1zM371 624h1v1h-1zM635 682h1v1h-1zM649 698h1v2h-1zM727 701h1v1h-1zM726 702h1v1h-1zM698 720h1v1h-1zM758 679h1v1h-1zM1241 656h1v1h-1zM412 652h1v1h-1zM447 674h1v1h-1zM1219 635h1v1h-1zM1236 651h1v1h-1zM770 671h1v1h-1zM650 700h1v1h-1zM389 635h1v1h-1zM644 693h1v1h-1zM668 715h1v1h-1zM1351 683h1v1h-1zM419 657h1v1h-1zM1242 657h1v1h-1zM1116 615h1v1h-1zM1220 636h1v1h-1zM135 617h1v1h-1zM375 626h1v1h-1zM101 603h1v1h-1zM710 714h1v1h-1zM1094 624h1v1h-1zM1100 621h1v1h-1zM1243 658h1v1h-1zM1381 674h1v1h-1zM1038 655h1v1h-1zM872 641h1v1h-1zM1266 680h1v1h-1zM411 651h1v1h-1zM597 659h1v1h-1zM363 620h1v1h-1zM89 597h1v1h-1zM920 665h1v1h-1zM926 669h1v1h-1zM405 647h1v1h-1zM627 675h1v1h-1zM1230 644h1v1h-1zM513 662h1v1h-1zM1339 688h1v1h-1zM1160 610h1v1h-1zM1104 620h1v1h-1zM894 649h1v1h-1zM1255 670h1v1h-1zM519 659h1v1h-1zM1267 681h1v1h-1zM654 704h1v1h-1zM123 613h1v1h-1zM740 691h1v1h-1zM818 647h1v1h-1zM655 705h1v1h-1zM161 624h1v1h-1zM413 653h1v1h-1zM756 681h1v1h-1zM1247 662h1v1h-1zM1231 645h1v1h-1zM702 719h1v1h-1zM1086 629h1v1h-1zM645 694h1v1h-1zM734 696h1v1h-1zM739 692h1v1h-1zM191 631h1v1h-1zM394 639h1v1h-1zM1002 666h1v1h-1zM525 656h1v1h-1zM714 711h1v1h-1zM77 593h1v1h-1zM1232 646h1v1h-1zM1409 669h1v1h-1zM489 675h1v1h-1zM938 675h1v1h-1zM1343 687h1v1h-1zM640 688h1v1h-1zM738 693h1v1h-1zM656 706h1v1h-1zM321 622h1v1h-1zM1081 632h1v1h-1zM441 671h1v1h-1zM1194 619h1v1h-1zM1082 631h1v1h-1zM496 671h1v1h-1zM497 670h1v1h-1zM1070 638h1v1h-1zM1248 663h1v1h-1zM1265 679h1v1h-1zM750 685h1v1h-1zM311 625h1v1h-1zM503 667h1v1h-1zM15 593h1v1h-1zM129 615h1v1h-1zM888 646h1v1h-1zM395 640h1v1h-1zM1080 633h1v1h-1zM860 639h1v1h-1zM792 660h1v1h-1zM1254 669h1v1h-1zM495 672h1v1h-1zM1124 612h1v1h-1zM980 674h1v1h-1zM1249 664h1v1h-1zM1200 622h1v1h-1zM147 620h1v1h-1zM621 670h1v1h-1zM1273 685h1v1h-1zM643 692h1v1h-1zM177 627h1v1h-1zM1259 674h1v1h-1zM798 657h1v1h-1zM341 616h1v1h-1zM383 631h1v1h-1zM197 632h1v1h-1zM638 686h1v1h-1z" fill="#ff0000" shape-rendering="crispEdges"/>
<g shape-rendering="crispEdges">
<line x1="1" y1="785.5" x2="1650" y2="785.5" stroke="#c0c0c0" stroke-width="1" stroke-dasharray="3 3"/>
<line x1="1" y1="836.5" x2="1650" y2="836.5" stroke="#c0c0c0" stroke-width="1" stroke-dasharray="3 3"/>
<line x1="1" y1="897.5" x2="1650" y2="897.5" stroke="#c0c0c0" stroke-width="1" stroke-dasharray="3 3"/>
</g>
<path d="M20 811h2v1h-2zM16 814h2v1h-2zM294 814h10v1h-10zM290 815h4v1h-4zM287 816h3v1h-3zM31 818h2v1h-2zM1100 818h4v1h-4zM10 819h2v1h-2zM33 819h3v1h-3zM1095 819h5v1h-5zM1104 819h2v1h-2zM36 820h2v1h-2zM1093 820h2v1h-2zM38 821h3v1h-3zM1091 821h2v1h-2zM1118 821h2v1h-2zM6 822h2v1h-2zM41 822h3v1h-3zM1089 822h2v1h-2zM1108 822h2v1h-2zM1116 822h2v1h-2zM4 823h2v1h-2zM44 823h2v1h-2zM1087 823h2v1h-2zM1113 823h3v1h-3zM2 824h2v1h-2zM46 824h2v1h-2zM1052 824h4v1h-4zM1085 824h2v1h-2zM1111 824h2v1h-2zM0 825h2v1h-2zM1046 825h6v1h-6zM1056 825h2v1h-2zM1083 825h2v1h-2zM276 826h4v1h-4zM1042 826h4v1h-4zM1081 826h2v1h-2zM270 827h6v1h-6zM312 827h2v1h-2zM1031 827h11v1h-11zM1079 827h2v1h-2zM1148 827h4v1h-4zM268 828h2v1h-2zM314 828h2v1h-2zM1029 828h2v1h-2zM1060 828h2v1h-2zM1077 828h2v1h-2zM1143 828h5v1h-5zM265 829h3v1h-3zM1075 829h2v1h-2zM262 830h3v1h-3zM317 830h2v1h-2zM1026 830h2v1h-2zM1063 830h5v1h-5zM1073 830h2v1h-2zM260 831h2v1h-2zM319 831h9v1h-9zM1024 831h2v1h-2zM1068 831h5v1h-5zM1421 831h2v1h-2zM62 832h2v1h-2zM213 832h3v1h-3zM257 832h3v1h-3zM488 832h2v1h-2zM790 832h18v1h-18zM1419 832h2v1h-2zM58 833h4v1h-4zM64 833h2v1h-2zM255 833h2v1h-2zM490 833h2v1h-2zM502 833h3v1h-3zM786 833h4v1h-4zM808 833h2v1h-2zM1417 833h2v1h-2zM55 834h3v1h-3zM66 834h2v1h-2zM148 834h4v1h-4zM210 834h2v1h-2zM500 834h2v1h-2zM505 834h3v1h-3zM783 834h3v1h-3zM810 834h2v1h-2zM1415 834h2v1h-2zM143 835h5v1h-5zM208 835h2v1h-2zM493 835h2v1h-2zM497 835h3v1h-3zM508 835h2v1h-2zM69 836h2v1h-2zM495 836h2v1h-2zM510 836h2v1h-2zM711 836h2v1h-2zM813 836h2v1h-2zM125 837h2v1h-2zM713 837h3v1h-3zM123 838h2v1h-2zM455 838h2v1h-2zM567 838h9v1h-9zM716 838h2v1h-2zM759 838h2v1h-2zM778 838h2v1h-2zM121 839h2v1h-2zM457 839h3v1h-3zM718 839h4v1h-4zM761 839h2v1h-2zM958 839h2v1h-2zM1167 839h5v1h-5zM88 840h2v1h-2zM116 840h5v1h-5zM460 840h2v1h-2zM722 840h4v1h-4zM763 840h2v1h-2zM818 840h2v1h-2zM954 840h4v1h-4zM1165 840h2v1h-2zM1172 840h4v1h-4zM84 841h2v1h-2zM103 841h13v1h-13zM462 841h2v1h-2zM726 841h2v1h-2zM765 841h2v1h-2zM772 841h4v1h-4zM829 841h2v1h-2zM832 841h2v1h-2zM943 841h11v1h-11zM101 842h2v1h-2zM464 842h2v1h-2zM728 842h2v1h-2zM767 842h5v1h-5zM827 842h2v1h-2zM941 842h2v1h-2zM1162 842h2v1h-2zM92 843h2v1h-2zM99 843h2v1h-2zM730 843h2v1h-2zM825 843h2v1h-2zM939 843h2v1h-2zM1159 843h3v1h-3zM80 844h2v1h-2zM97 844h2v1h-2zM823 844h2v1h-2zM836 844h2v1h-2zM937 844h2v1h-2zM1006 844h2v1h-2zM1134 844h2v1h-2zM1343 844h2v1h-2zM1357 844h2v1h-2zM95 845h2v1h-2zM468 845h2v1h-2zM478 845h2v1h-2zM733 845h2v1h-2zM740 845h8v1h-8zM935 845h2v1h-2zM980 845h4v1h-4zM1004 845h2v1h-2zM1345 845h3v1h-3zM1355 845h2v1h-2zM474 846h4v1h-4zM735 846h5v1h-5zM748 846h4v1h-4zM839 846h2v1h-2zM974 846h6v1h-6zM984 846h2v1h-2zM1001 846h3v1h-3zM1319 846h3v1h-3zM1348 846h2v1h-2zM1353 846h2v1h-2zM231 847h5v1h-5zM471 847h3v1h-3zM583 847h2v1h-2zM841 847h3v1h-3zM972 847h2v1h-2zM999 847h2v1h-2zM1322 847h4v1h-4zM1350 847h3v1h-3zM159 848h3v1h-3zM229 848h2v1h-2zM236 848h4v1h-4zM585 848h2v1h-2zM679 848h10v1h-10zM844 848h2v1h-2zM969 848h3v1h-3zM997 848h2v1h-2zM1326 848h3v1h-3zM1338 848h2v1h-2zM162 849h4v1h-4zM227 849h2v1h-2zM587 849h2v1h-2zM689 849h2v1h-2zM701 849h2v1h-2zM846 849h3v1h-3zM967 849h2v1h-2zM988 849h2v1h-2zM995 849h2v1h-2zM1329 849h3v1h-3zM166 850h10v1h-10zM225 850h2v1h-2zM589 850h2v1h-2zM676 850h2v1h-2zM691 850h2v1h-2zM699 850h2v1h-2zM849 850h2v1h-2zM993 850h2v1h-2zM1332 850h2v1h-2zM176 851h2v1h-2zM196 851h4v1h-4zM223 851h2v1h-2zM693 851h2v1h-2zM697 851h2v1h-2zM851 851h2v1h-2zM991 851h2v1h-2zM1184 851h2v1h-2zM1334 851h2v1h-2zM191 852h5v1h-5zM653 852h2v1h-2zM695 852h2v1h-2zM853 852h2v1h-2zM1186 852h2v1h-2zM1279 852h5v1h-5zM189 853h2v1h-2zM651 853h2v1h-2zM672 853h2v1h-2zM871 853h2v1h-2zM1014 853h2v1h-2zM1277 853h2v1h-2zM1284 853h4v1h-4zM1383 853h5v1h-5zM180 854h2v1h-2zM187 854h2v1h-2zM519 854h5v1h-5zM649 854h2v1h-2zM873 854h3v1h-3zM1189 854h2v1h-2zM1381 854h2v1h-2zM1388 854h5v1h-5zM185 855h2v1h-2zM524 855h4v1h-4zM647 855h2v1h-2zM669 855h2v1h-2zM876 855h2v1h-2zM919 855h3v1h-3zM1274 855h2v1h-2zM1393 855h3v1h-3zM183 856h2v1h-2zM246 856h2v1h-2zM878 856h2v1h-2zM922 856h2v1h-2zM1192 856h2v1h-2zM1272 856h2v1h-2zM1290 856h2v1h-2zM1378 856h2v1h-2zM1396 856h2v1h-2zM666 857h2v1h-2zM1302 857h4v1h-4zM1376 857h2v1h-2zM1398 857h10v1h-10zM664 858h2v1h-2zM925 858h2v1h-2zM1229 858h3v1h-3zM1300 858h2v1h-2zM1306 858h4v1h-4zM1367 858h9v1h-9zM343 859h3v1h-3zM446 859h2v1h-2zM556 859h2v1h-2zM1196 859h2v1h-2zM1227 859h2v1h-2zM1297 859h3v1h-3zM1310 859h2v1h-2zM346 860h4v1h-4zM444 860h2v1h-2zM542 860h3v1h-3zM1225 860h2v1h-2zM1295 860h2v1h-2zM350 861h6v1h-6zM441 861h3v1h-3zM540 861h2v1h-2zM545 861h3v1h-3zM1223 861h2v1h-2zM1266 861h2v1h-2zM356 862h8v1h-8zM439 862h2v1h-2zM537 862h3v1h-3zM548 862h2v1h-2zM552 862h2v1h-2zM1221 862h2v1h-2zM364 863h4v1h-4zM535 863h2v1h-2zM550 863h2v1h-2zM1218 864h2v1h-2zM1216 865h2v1h-2zM370 866h2v1h-2zM383 866h2v1h-2zM397 866h2v1h-2zM381 867h2v1h-2zM385 867h3v1h-3zM395 867h2v1h-2zM887 867h2v1h-2zM1213 867h2v1h-2zM379 868h2v1h-2zM388 868h2v1h-2zM393 868h2v1h-2zM889 868h3v1h-3zM1258 868h2v1h-2zM377 869h2v1h-2zM390 869h3v1h-3zM892 869h2v1h-2zM1210 869h2v1h-2zM375 870h2v1h-2zM894 870h2v1h-2zM1208 870h2v1h-2zM1247 870h5v1h-5zM1245 871h2v1h-2zM1252 871h4v1h-4zM602 872h2v1h-2zM1242 873h2v1h-2zM1239 874h3v1h-3zM423 875h9v1h-9zM607 876h3v1h-3zM610 877h4v1h-4zM909 877h2v1h-2zM614 878h2v1h-2zM907 878h2v1h-2zM905 879h2v1h-2zM903 880h2v1h-2zM408 881h2v1h-2zM410 882h2v1h-2zM413 884h2v1h-2zM623 889h9v1h-9zM284 820h1v1h-1zM835 843h1v1h-1zM815 837h1v1h-1zM415 885h1v1h-1zM450 850h1v3h-1zM127 836h1v1h-1zM576 839h1v1h-1zM1202 865h1v1h-1zM659 855h1v1h-1zM639 876h1v2h-1zM304 815h1v2h-1zM595 859h1v3h-1zM1123 828h1v2h-1zM22 810h1v1h-1zM1131 840h1v2h-1zM816 838h1v1h-1zM454 840h1v2h-1zM128 837h1v1h-1zM518 851h1v2h-1zM674 852h1v1h-1zM86 840h1v1h-1zM1154 833h1v2h-1zM515 844h1v3h-1zM134 844h1v1h-1zM204 841h1v2h-1zM560 854h1v2h-1zM708 840h1v2h-1zM404 874h1v2h-1zM480 843h1v2h-1zM154 839h1v2h-1zM449 853h1v3h-1zM438 863h1v2h-1zM886 865h1v2h-1zM1138 838h1v2h-1zM25 811h1v1h-1zM158 846h1v2h-1zM1362 848h1v2h-1zM616 879h1v2h-1zM336 843h1v2h-1zM1008 845h1v1h-1zM1289 855h1v1h-1zM451 848h1v2h-1zM222 848h1v2h-1zM966 848h1v1h-1zM901 877h1v2h-1zM203 843h1v2h-1zM1407 856h1v1h-1zM244 854h1v1h-1zM620 885h1v1h-1zM1009 846h1v2h-1zM598 866h1v2h-1zM1157 839h1v2h-1zM643 865h1v3h-1zM245 855h1v1h-1zM1232 859h1v2h-1zM928 857h1v2h-1zM1201 863h1v2h-1zM564 844h1v3h-1zM1153 831h1v2h-1zM1122 826h1v2h-1zM249 850h1v3h-1zM1130 839h1v1h-1zM678 849h1v1h-1zM605 874h1v1h-1zM407 880h1v1h-1zM157 844h1v2h-1zM1142 830h1v2h-1zM138 841h1v1h-1zM1205 868h1v2h-1zM757 840h1v1h-1zM1183 850h1v1h-1zM912 872h1v3h-1zM932 850h1v2h-1zM453 842h1v3h-1zM1020 839h1v3h-1zM153 837h1v2h-1zM1365 854h1v2h-1zM1220 863h1v1h-1zM619 883h1v2h-1zM248 853h1v3h-1zM1361 846h1v2h-1zM635 883h1v1h-1zM492 834h1v1h-1zM776 840h1v1h-1zM597 864h1v2h-1zM418 881h1v1h-1zM243 852h1v2h-1zM487 831h1v1h-1zM306 818h1v2h-1zM1164 841h1v1h-1zM1156 837h1v2h-1zM704 846h1v2h-1zM559 856h1v2h-1zM601 871h1v1h-1zM217 835h1v3h-1zM579 842h1v2h-1zM77 843h1v1h-1zM1062 829h1v1h-1zM434 870h1v1h-1zM1137 840h1v2h-1zM131 840h1v2h-1zM403 872h1v2h-1zM1182 849h1v1h-1zM1380 855h1v1h-1zM156 842h1v2h-1zM207 836h1v1h-1zM373 868h1v1h-1zM483 838h1v1h-1zM221 845h1v3h-1zM638 878h1v2h-1zM754 843h1v1h-1zM335 841h1v2h-1zM1364 852h1v2h-1zM821 842h1v1h-1zM252 841h1v3h-1zM182 855h1v1h-1zM862 861h1v1h-1zM28 815h1v1h-1zM600 870h1v1h-1zM822 843h1v1h-1zM1023 832h1v2h-1zM780 837h1v1h-1zM9 820h1v1h-1zM1239 875h1v1h-1zM1315 852h1v2h-1zM863 862h1v1h-1zM563 847h1v2h-1zM897 872h1v2h-1zM655 851h1v1h-1zM532 860h1v1h-1zM596 862h1v2h-1zM911 875h1v2h-1zM647 856h1v1h-1zM448 856h1v2h-1zM1141 832h1v2h-1zM137 842h1v2h-1zM1152 829h1v2h-1zM437 865h1v2h-1zM1155 835h1v2h-1zM406 878h1v2h-1zM452 845h1v3h-1zM578 841h1v1h-1zM1204 867h1v1h-1zM661 857h1v1h-1zM1270 858h1v1h-1zM1133 843h1v1h-1zM517 849h1v2h-1zM202 845h1v2h-1zM1231 857h1v1h-1zM402 870h1v2h-1zM372 867h1v1h-1zM662 858h1v1h-1zM152 835h1v2h-1zM634 884h1v2h-1zM339 849h1v3h-1zM855 853h1v1h-1zM646 857h1v3h-1zM1110 823h1v1h-1zM1360 844h1v2h-1zM554 861h1v1h-1zM1257 869h1v1h-1zM179 853h1v1h-1zM417 882h1v2h-1zM514 842h1v2h-1zM618 882h1v1h-1zM283 821h1v1h-1zM286 817h1v1h-1zM965 846h1v2h-1zM13 817h1v1h-1zM558 858h1v1h-1zM599 868h1v2h-1zM1238 872h1v2h-1zM1019 842h1v3h-1zM622 887h1v2h-1zM1011 849h1v1h-1zM433 871h1v2h-1zM281 823h1v2h-1zM405 876h1v2h-1zM707 842h1v1h-1zM562 849h1v3h-1zM660 856h1v1h-1zM342 856h1v2h-1zM305 817h1v1h-1zM251 844h1v3h-1zM931 852h1v1h-1zM1132 842h1v1h-1zM817 839h1v1h-1zM1414 836h1v3h-1zM178 852h1v1h-1zM255 834h1v1h-1zM1018 845h1v3h-1zM516 847h1v2h-1zM399 865h1v1h-1zM1314 854h1v1h-1zM486 832h1v2h-1zM27 813h1v2h-1zM1261 866h1v1h-1zM250 847h1v3h-1zM927 859h1v1h-1zM531 859h1v1h-1zM513 840h1v2h-1zM565 842h1v2h-1zM1276 854h1v1h-1zM1413 839h1v3h-1zM896 871h1v1h-1zM752 845h1v1h-1zM220 843h1v2h-1zM1318 847h1v2h-1zM72 838h1v1h-1zM482 839h1v2h-1zM368 864h1v1h-1zM1136 842h1v2h-1zM308 821h1v2h-1zM1188 853h1v1h-1zM870 854h1v1h-1zM129 838h1v1h-1zM49 826h1v2h-1zM1106 820h1v1h-1zM1125 832h1v2h-1zM918 856h1v3h-1zM216 833h1v2h-1zM710 837h1v2h-1zM341 854h1v2h-1zM247 857h1v1h-1zM50 828h1v1h-1zM1022 834h1v3h-1zM782 835h1v1h-1zM155 841h1v1h-1zM606 875h1v1h-1zM1317 849h1v2h-1zM637 880h1v1h-1zM1215 866h1v1h-1zM881 859h1v1h-1zM831 840h1v1h-1zM1207 871h1v1h-1zM254 835h1v3h-1zM1237 870h1v2h-1zM68 835h1v1h-1zM812 835h1v1h-1zM412 883h1v1h-1zM1021 837h1v2h-1zM915 864h1v3h-1zM1336 850h1v1h-1zM621 886h1v1h-1zM90 841h1v1h-1zM961 841h1v2h-1zM71 837h1v1h-1zM561 852h1v2h-1zM1409 850h1v3h-1zM1013 851h1v2h-1zM30 817h1v1h-1zM919 854h1v1h-1zM930 853h1v2h-1zM91 842h1v1h-1zM1340 847h1v1h-1zM645 860h1v2h-1zM436 867h1v1h-1zM253 838h1v3h-1zM657 853h1v1h-1zM307 820h1v1h-1zM756 841h1v1h-1zM580 844h1v1h-1zM880 857h1v2h-1zM1206 870h1v1h-1zM914 867h1v3h-1zM285 818h1v2h-1zM78 844h1v1h-1zM215 831h1v1h-1zM1177 842h1v2h-1zM934 846h1v2h-1zM340 852h1v2h-1zM15 815h1v1h-1zM401 868h1v2h-1zM132 842h1v1h-1zM581 845h1v1h-1zM79 845h1v1h-1zM865 860h1v1h-1zM644 862h1v3h-1zM432 873h1v2h-1zM19 812h1v1h-1zM8 821h1v1h-1zM374 869h1v1h-1zM83 842h1v1h-1zM857 855h1v1h-1zM512 838h1v2h-1zM481 841h1v2h-1zM219 840h1v3h-1zM136 844h1v1h-1zM139 840h1v1h-1zM1017 848h1v2h-1zM706 843h1v2h-1zM990 850h1v1h-1zM310 824h1v2h-1zM48 825h1v1h-1zM656 852h1v1h-1zM447 858h1v1h-1zM1313 855h1v2h-1zM1158 841h1v2h-1zM1412 842h1v3h-1zM311 826h1v1h-1zM1408 853h1v3h-1zM594 857h1v2h-1zM1263 864h1v1h-1zM868 856h1v1h-1zM485 834h1v2h-1zM470 846h1v1h-1zM1016 850h1v3h-1zM1256 870h1v1h-1zM400 866h1v2h-1zM419 880h1v1h-1zM671 854h1v1h-1zM329 833h1v2h-1zM663 859h1v1h-1zM883 861h1v2h-1zM455 839h1v1h-1zM640 873h1v3h-1zM1135 845h1v1h-1zM675 851h1v1h-1zM330 835h1v1h-1zM29 816h1v1h-1zM280 825h1v1h-1zM917 859h1v2h-1zM1423 830h1v1h-1zM511 837h1v1h-1zM960 840h1v1h-1zM1012 850h1v1h-1zM898 874h1v1h-1zM1058 826h1v1h-1zM533 861h1v1h-1zM1236 868h1v2h-1zM1059 827h1v1h-1zM933 848h1v2h-1zM534 862h1v1h-1zM636 881h1v2h-1zM369 865h1v1h-1zM1198 860h1v1h-1zM1176 841h1v1h-1zM916 861h1v3h-1zM1127 836h1v1h-1zM1199 861h1v1h-1zM343 858h1v1h-1zM591 851h1v2h-1zM856 854h1v1h-1zM929 855h1v2h-1zM52 830h1v1h-1zM838 845h1v1h-1zM1342 845h1v1h-1zM1415 835h1v1h-1zM986 847h1v1h-1zM200 849h1v2h-1zM142 836h1v1h-1zM758 839h1v1h-1zM1312 857h1v2h-1zM913 870h1v2h-1zM1195 858h1v1h-1zM1126 834h1v2h-1zM1411 845h1v2h-1zM206 837h1v2h-1zM709 839h1v1h-1zM963 844h1v1h-1zM73 839h1v1h-1zM867 857h1v2h-1zM218 838h1v2h-1zM241 850h1v1h-1zM51 829h1v1h-1zM777 839h1v1h-1zM74 840h1v1h-1zM130 839h1v1h-1zM1028 829h1v1h-1zM14 816h1v1h-1zM642 868h1v3h-1zM422 876h1v1h-1zM328 832h1v1h-1zM924 857h1v1h-1zM1316 851h1v1h-1zM882 860h1v1h-1zM582 846h1v1h-1zM1293 858h1v1h-1zM1179 845h1v1h-1zM859 857h1v2h-1zM962 843h1v1h-1zM240 849h1v1h-1zM1194 857h1v1h-1zM703 848h1v1h-1zM1235 865h1v3h-1zM860 859h1v1h-1zM484 836h1v2h-1zM309 823h1v1h-1zM1107 821h1v1h-1zM1292 857h1v1h-1zM593 855h1v2h-1zM1262 865h1v1h-1zM1410 847h1v3h-1zM658 854h1v1h-1zM753 844h1v1h-1zM567 839h1v1h-1zM528 856h1v1h-1zM331 836h1v1h-1zM529 857h1v1h-1zM1159 844h1v1h-1zM332 837h1v1h-1zM1265 862h1v1h-1zM899 875h1v1h-1zM1212 868h1v1h-1zM201 847h1v2h-1zM1288 854h1v1h-1zM1015 854h1v1h-1zM1269 859h1v1h-1zM555 860h1v1h-1zM900 876h1v1h-1zM641 871h1v2h-1zM421 877h1v2h-1zM1178 844h1v1h-1zM592 853h1v2h-1zM141 837h1v2h-1zM1200 862h1v1h-1zM133 843h1v1h-1zM416 884h1v1h-1zM1129 838h1v1h-1zM1140 834h1v2h-1zM604 873h1v1h-1zM282 822h1v1h-1zM23 809h1v1h-1zM12 818h1v1h-1zM54 833h1v1h-1zM858 856h1v1h-1zM87 839h1v1h-1zM338 847h1v2h-1zM24 810h1v1h-1zM987 848h1v1h-1zM316 829h1v1h-1zM205 839h1v2h-1zM885 864h1v1h-1zM633 886h1v1h-1zM866 859h1v1h-1zM1124 830h1v2h-1zM1234 863h1v2h-1zM1337 849h1v1h-1zM566 840h1v2h-1zM53 831h1v2h-1zM1121 824h1v2h-1zM1260 867h1v1h-1zM76 842h1v1h-1zM884 863h1v1h-1zM435 868h1v2h-1zM1181 847h1v2h-1zM466 843h1v1h-1zM467 844h1v1h-1zM1128 837h1v1h-1zM1139 836h1v2h-1zM1233 861h1v2h-1zM1120 822h1v2h-1zM75 841h1v1h-1zM1341 846h1v1h-1zM577 840h1v1h-1zM337 845h1v2h-1zM1366 856h1v2h-1zM212 833h1v1h-1zM1271 857h1v1h-1zM1363 850h1v2h-1zM820 841h1v1h-1zM632 887h1v2h-1zM333 838h1v2h-1zM861 860h1v1h-1zM1264 863h1v1h-1zM668 856h1v1h-1zM334 840h1v1h-1zM869 855h1v1h-1zM1244 872h1v1h-1zM1143 829h1v1h-1zM755 842h1v1h-1zM964 845h1v1h-1zM242 851h1v1h-1zM902 879h1v1h-1zM781 836h1v1h-1zM864 861h1v1h-1zM140 839h1v1h-1zM18 813h1v1h-1zM82 843h1v1h-1zM1294 859h1v1h-1zM519 853h1v1h-1zM1180 846h1v1h-1zM1191 855h1v1h-1zM1151 828h1v1h-1zM1203 866h1v1h-1zM94 844h1v1h-1zM135 845h1v1h-1zM732 844h1v1h-1zM705 845h1v1h-1zM617 881h1v1h-1zM1268 860h1v1h-1zM26 812h1v1h-1zM223 850h1v1h-1zM420 879h1v1h-1zM530 858h1v1h-1zM834 842h1v1h-1zM1010 848h1v1h-1zM1359 843h1v1h-1z" fill="#1e90ff" shape-rendering="crispEdges"/>
<line x1="1381.0" y1="561.0" x2="1433.5" y2="471.6" stroke="#ff0000" stroke-width="3.4" stroke-linecap="round"/><polygon points="1438.6,463.0 1436.8,475.9 1434.0,470.8 1428.2,470.8" fill="#ff0000"/>
<line x1="1274.0" y1="710.3" x2="1440.4" y2="663.0" stroke="#ff0000" stroke-width="3.4" stroke-linecap="round"/><polygon points="1450.0,660.3 1439.8,668.4 1441.3,662.8 1437.1,658.8" fill="#ff0000"/>
<line x1="1399.0" y1="862.0" x2="1425.0" y2="838.8" stroke="#ff0000" stroke-width="3.4" stroke-linecap="round"/><polygon points="1431.0,833.5 1426.9,843.9 1425.8,838.2 1420.2,836.4" fill="#ff0000"/>
<g shape-rendering="crispEdges"><rect x="782" y="287" width="10" height="1" fill="#f00"/><rect x="1102" y="310" width="10" height="1" fill="#f00"/><rect x="894" y="480" width="10" height="1" fill="#f00"/><rect x="1088" y="487" width="10" height="1" fill="#f00"/><rect x="1374" y="562" width="10" height="1" fill="#f00"/><rect x="1095.5" y="485.5" width="2" height="3" fill="#fff" stroke="#f00"/><rect x="1374.5" y="560.5" width="2" height="3" fill="#fff" stroke="#f00"/></g>
<rect x="720.5" y="278.5" width="61" height="18" fill="#fff" stroke="#ff0000" stroke-width="1" shape-rendering="crispEdges"/><text x="722.4" y="294.2" font-size="17.3" fill="#ff0000" stroke="#ff0000" stroke-width="0.15" font-family="Liberation Sans, Arial, sans-serif" textLength="57.8" lengthAdjust="spacingAndGlyphs">26718.2</text>
<rect x="1040.5" y="301.5" width="61" height="18" fill="#fff" stroke="#ff0000" stroke-width="1" shape-rendering="crispEdges"/><text x="1042.4" y="317.2" font-size="17.3" fill="#ff0000" stroke="#ff0000" stroke-width="0.15" font-family="Liberation Sans, Arial, sans-serif" textLength="57.8" lengthAdjust="spacingAndGlyphs">26466.9</text>
<rect x="832.5" y="471.5" width="61" height="18" fill="#fff" stroke="#ff0000" stroke-width="1" shape-rendering="crispEdges"/><text x="834.4" y="487.2" font-size="17.3" fill="#ff0000" stroke="#ff0000" stroke-width="0.15" font-family="Liberation Sans, Arial, sans-serif" textLength="57.8" lengthAdjust="spacingAndGlyphs">24551.7</text>
<rect x="1098.5" y="475.5" width="73" height="24" fill="#fff" stroke="#ff0000" stroke-width="1" shape-rendering="crispEdges"/><text x="1100" y="495.9" font-size="22.3" fill="#ff0000" stroke="#ff0000" stroke-width="0.15" font-family="Liberation Sans, Arial, sans-serif" textLength="70" lengthAdjust="spacingAndGlyphs">24482.2</text>
<rect x="1312.5" y="553.5" width="61" height="18" fill="#fff" stroke="#ff0000" stroke-width="1" shape-rendering="crispEdges"/><text x="1314.4" y="569.2" font-size="17.3" fill="#ff0000" stroke="#ff0000" stroke-width="0.15" font-family="Liberation Sans, Arial, sans-serif" textLength="57.8" lengthAdjust="spacingAndGlyphs">23641.7</text>
<polygon points="1429,23 1438,23 1433.5,28" fill="#c0c0c0"/></svg>
<div id="edge"></div>
<div id="tb">
<svg width="1697" height="20" viewBox="0 0 1697 20" style="position:absolute;left:0;top:0" font-family="Liberation Sans, Noto Sans CJK SC, sans-serif">
<rect x="0" y="0" width="1697" height="18" fill="#f0f0f0"/>
<rect x="0" y="17" width="1697" height="1" fill="#f6f6f6"/>
<rect x="0" y="18" width="1696" height="1" fill="#a4a4a4"/>
<rect x="0" y="19" width="1696" height="1" fill="#666666"/>
<!-- selected button backgrounds -->
<g fill="#f8f8f8"><rect x="287" y="0" width="24" height="16"/><rect x="438" y="0" width="24" height="16"/><rect x="466" y="0" width="24" height="16"/><rect x="626" y="0" width="24" height="16"/><rect x="1072" y="0" width="24" height="16"/></g>
<!-- separators -->
<g fill="#a0a0a0" shape-rendering="crispEdges">
<rect x="11" y="0" width="1" height="16"/><rect x="247" y="0" width="1" height="18"/><rect x="285" y="0" width="1" height="16"/><rect x="342" y="0" width="1" height="16"/>
<rect x="432" y="0" width="1" height="16"/><rect x="437" y="0" width="1" height="16"/><rect x="465" y="0" width="1" height="16"/><rect x="494" y="0" width="1" height="16"/>
<rect x="615" y="0" width="1" height="18"/><rect x="625" y="0" width="1" height="16"/><rect x="682" y="0" width="1" height="16"/><rect x="921" y="0" width="1" height="18"/>
<rect x="1071" y="0" width="1" height="16"/><rect x="1182" y="0" width="1" height="18"/>
</g>
<!-- grips -->
<g fill="#a8a8a8" shape-rendering="crispEdges">
<path d="M251 1h3v1h-3zM251 3h3v1h-3zM251 5h3v1h-3zM251 7h3v1h-3zM251 9h3v1h-3zM251 11h3v1h-3zM251 13h3v1h-3z"/>
<path d="M619 1h3v1h-3zM619 3h3v1h-3zM619 5h3v1h-3zM619 7h3v1h-3zM619 9h3v1h-3zM619 11h3v1h-3zM619 13h3v1h-3z"/>
<path d="M925 1h3v1h-3zM925 3h3v1h-3zM925 5h3v1h-3zM925 7h3v1h-3zM925 9h3v1h-3zM925 11h3v1h-3zM925 13h3v1h-3z"/>
</g>
<!-- left gold fragment -->
<path d="M0 8 L3 11 L3 15 L0 12Z" fill="#d9a520"/><path d="M1 6l2 2-1 1-2-2z" fill="#333"/>
<!-- new order icon -->
<path d="M21 -2h9l3 3v10h-12z" fill="#fff" stroke="#8a8a8a" stroke-width="1"/>
<path d="M23 2h6M23 5h7" stroke="#9a9a9a" stroke-width="1"/>
<path d="M29.200 4.300h3.300v4h4v3.300h-4v4h-3.300v-4h-4v-3.300h4z" fill="#2fc62f" stroke="#0f8a0f" stroke-width="0.900"/>
<text x="40" y="9" font-size="12.5" fill="#000" stroke="#000" stroke-width="0.25" textLength="36" lengthAdjust="spacingAndGlyphs">新订单</text>
<!-- gold book -->
<path d="M95 0 L104 7 L97 13 L88 7Z" fill="#e8b62c" stroke="#a97a10" stroke-width="1"/><path d="M88 7l9 6 0 -2 -8 -5z" fill="#f7e7a0"/>
<!-- cloud -->
<rect x="119" y="-1" width="10" height="9" fill="#2f86d6"/><path d="M121 2h6M121 4h6" stroke="#cfe6fa" stroke-width="1"/>
<path d="M118 13a3 3 0 0 1 1-5.5a4 4 0 0 1 7-1a3.2 3.2 0 0 1 5 3a2 2 0 0 1 -1 3.5z" fill="#eef4fb" stroke="#7f9fc4" stroke-width="1"/>
<!-- signal -->
<circle cx="152" cy="5.5" r="7" fill="none" stroke="#9db9e6" stroke-width="1.3"/><circle cx="152" cy="5.5" r="4" fill="none" stroke="#5b86d9" stroke-width="1.3"/><circle cx="152" cy="5.5" r="1.6" fill="#1f4fc8"/>
<path d="M152 6v7.5c5 0 7.5-3.5 7.5-8" fill="none" stroke="#3aa64a" stroke-width="1.6"/>
<!-- auto trading -->
<path d="M172 5c2-4 12-4 15 0l-2 7c-3 2-8 2-11 0z" fill="#f3c53a" stroke="#c08f12" stroke-width="0.8"/>
<path d="M171 4c3-6 13-6 16 0c-4 3-12 3-16 0z" fill="#3f8fd9" stroke="#2a6db3" stroke-width="0.8"/>
<circle cx="183.500" cy="9.500" r="3.800" fill="#e02a1c"/><rect x="182" y="8" width="3" height="3" fill="#fff"/>
<text x="193" y="9" font-size="12.500" fill="#000" stroke="#000" stroke-width="0.25" textLength="46" lengthAdjust="spacingAndGlyphs">自动交易</text>
<!-- chart type icons -->
<g stroke="#555" stroke-width="1.300" fill="none"><path d="M265.500 0v13.500M262.500 11.500h14.500"/><path d="M293.500 0v13.500M290.500 11.500h14.500"/><path d="M321.500 0v13.500M318.500 11.500h14.500"/><path d="M445.500 0v13.500M442.500 11.500h14.500"/><path d="M473.500 0v13.500M470.500 11.500h14.500"/></g>
<g fill="#555"><path d="M275 10l2.500 1.500-2.500 1.500zM303 10l2.500 1.500-2.500 1.500zM331 10l2.500 1.500-2.500 1.500zM455 10l2.500 1.500-2.500 1.500zM483 10l2.500 1.500-2.500 1.500z"/></g>
<path d="M271.500 1v8M271.500 2h2.500M269 8.500h2.500" stroke="#1e9a1e" stroke-width="1.500" fill="none"/>
<rect x="297.500" y="0" width="4" height="7.500" fill="#2fd02f" stroke="#1a8a1a" stroke-width="1"/><path d="M299.500 7.500v2.500" stroke="#1a8a1a" stroke-width="1"/>
<path d="M320 9c3-5 5-7 7-6.500s3 2 5 4" stroke="#2a9a2a" stroke-width="1.400" fill="none"/>
<!-- zoom in/out -->
<circle cx="357" cy="4" r="5" fill="#d6e8fb" stroke="#3f7fd0" stroke-width="1.500"/><path d="M354.500 4h5M357 1.500v5" stroke="#2a62c0" stroke-width="1.500"/><path d="M361 8l5.500 5" stroke="#c9a020" stroke-width="2.600"/>
<circle cx="385" cy="4" r="5" fill="#d6e8fb" stroke="#3f7fd0" stroke-width="1.500"/><path d="M382.500 4h5" stroke="#2a62c0" stroke-width="1.500"/><path d="M389 8l5.500 5" stroke="#c9a020" stroke-width="2.600"/>
<!-- tile -->
<rect x="407" y="0" width="7.500" height="6" fill="#49b23a"/><rect x="415.500" y="0" width="7.500" height="6" fill="#2f66d6"/><rect x="407" y="7" width="7.500" height="6.500" fill="#2f66d6"/><rect x="415.500" y="7" width="7.500" height="6.500" fill="#49b23a"/>
<g fill="#fff"><rect x="408.500" y="2" width="4.500" height="2.500"/><rect x="417" y="2" width="4.500" height="2.500"/><rect x="408.500" y="9.500" width="4.500" height="2.500"/><rect x="417" y="9.500" width="4.500" height="2.500"/></g>
<!-- autoscroll, shift -->
<path d="M450 2l4.500 3.500l-4.500 3.500z" fill="#3ac03a" stroke="#1a8a1a" stroke-width="0.800"/>
<path d="M479.500 0v10" stroke="#2a62c0" stroke-width="1.300"/><path d="M485 5.500h-4.500M483 3.500l-2.500 2 2.500 2" stroke="#d04010" stroke-width="1.200" fill="none"/>
<!-- new indicator -->
<path d="M504.500 -2h8l3 3v10h-11z" fill="#fff" stroke="#8a8a8a" stroke-width="1"/>
<path d="M512.200 4.300h3.300v4h4v3.300h-4v4h-3.300v-4h-4v-3.300h4z" fill="#2fc62f" stroke="#0f8a0f" stroke-width="0.900"/>
<g fill="#000"><path d="M525.500 5h6l-3 3z"/><path d="M564.500 5h6l-3 3z"/><path d="M603.500 5h6l-3 3z"/><path d="M909.500 5h6l-3 3z"/></g>
<!-- clock -->
<circle cx="550" cy="5.500" r="6.400" fill="#f4f8ff" stroke="#1f62cc" stroke-width="2.600"/><path d="M550 2v4h3" stroke="#444" stroke-width="1" fill="none"/>
<!-- templates -->
<rect x="581.500" y="-1" width="15" height="13.500" fill="#fff" stroke="#3a78c8" stroke-width="1"/><rect x="582" y="-1" width="14" height="3" fill="#3a78c8"/>
<path d="M583.500 6l3-1.500 3 1 3-2 2 .5" stroke="#a02010" stroke-width="1" fill="none"/><path d="M583.500 10.500l3-1 3 .5 2.500-2 2.500 1.500" stroke="#1a9a2a" stroke-width="1" fill="none"/>
<!-- cursor, crosshair, lines -->
<path d="M633 -1v11l3-2.500 2.500 5.500 2-1-2.500-5.500h4z" fill="#444"/>
<path d="M665.500 -1v14M658.500 6.500h14" stroke="#555" stroke-width="1"/>
<path d="M699.500 -1v14" stroke="#555" stroke-width="1.200"/><path d="M722 6.500h12" stroke="#555" stroke-width="1.200"/><path d="M750 13L762 1" stroke="#555" stroke-width="1.200"/>
<path d="M776 10l12-9M778 13l12-9M780 4l1 9M784 2l1 9M788 0l1 8" stroke="#555" stroke-width="0.900" fill="none"/>
<text x="787" y="15.500" font-size="6.500" font-weight="bold" fill="#333">E</text>
<path d="M805 2.500h13M805 6.500h13M805 10.500h10" stroke="#555" stroke-width="1" stroke-dasharray="1 1"/>
<text x="815" y="15.500" font-size="6.500" font-weight="bold" fill="#333">F</text>
<text x="835.500" y="11" font-size="12.500" font-weight="bold" fill="#555">A</text>
<rect x="862.500" y="-0.500" width="10.500" height="13" fill="none" stroke="#555" stroke-width="1" stroke-dasharray="1 1"/><text x="864" y="10.500" font-size="11.500" font-weight="bold" fill="#555">T</text>
<path d="M892 0l3 3-3 3-3-3z" fill="#444"/><path d="M900 7l3 3-3 3-3-3z" fill="#444"/><path d="M891 8l2.500 2.500 4.500-6" stroke="#444" stroke-width="1.200" fill="none"/>
<!-- timeframes -->
<g font-size="10" fill="#3c3c3c" stroke="#3c3c3c" stroke-width="0.2">
<text x="936.500" y="10" textLength="13" lengthAdjust="spacingAndGlyphs">M1</text>
<text x="965" y="10" textLength="12.500" lengthAdjust="spacingAndGlyphs">M5</text>
<text x="990" y="10" textLength="18" lengthAdjust="spacingAndGlyphs">M15</text>
<text x="1018.500" y="10" textLength="18" lengthAdjust="spacingAndGlyphs">M30</text>
<text x="1049.500" y="10" textLength="12" lengthAdjust="spacingAndGlyphs">H1</text>
<text x="1076.500" y="10" textLength="12.500" lengthAdjust="spacingAndGlyphs">H4</text>
<text x="1105.500" y="10" textLength="12" lengthAdjust="spacingAndGlyphs">D1</text>
<text x="1133" y="10" textLength="14.500" lengthAdjust="spacingAndGlyphs">W1</text>
<text x="1159.500" y="10" textLength="15" lengthAdjust="spacingAndGlyphs">MN</text>
</g>
<!-- search + chat -->
<circle cx="1652.700" cy="2.900" r="4.200" fill="#f4f8ff" stroke="#2a5fd0" stroke-width="1.500"/><path d="M1649.700 6l-4.500 4.500" stroke="#2a5fd0" stroke-width="2.500"/>
<ellipse cx="1676" cy="8" rx="6.500" ry="4.800" fill="#e4e4e4" stroke="#c4c4c4" stroke-width="1"/><path d="M1672 11.500l0.500 3 3-2.500z" fill="#d0d0d0"/>
<circle cx="1683.500" cy="2.500" r="8.500" fill="#dd3318"/>
<text x="1679.500" y="8" font-size="13" font-weight="bold" fill="#fff" font-family="Liberation Serif, serif">1</text>
</svg>
</div>

<svg width="215" height="62" viewBox="0 40 215 62" style="position:absolute;left:0;top:40px" font-family="Liberation Sans, sans-serif">
<defs>
<linearGradient id="gb" x1="0" y1="0" x2="0" y2="1"><stop offset="0" stop-color="#fb5252"/><stop offset="1" stop-color="#e23636"/></linearGradient>
<linearGradient id="gp" x1="0" y1="0" x2="0" y2="1"><stop offset="0" stop-color="#dd3232"/><stop offset="0.55" stop-color="#c61818"/><stop offset="1" stop-color="#ae0000"/></linearGradient>
<linearGradient id="gv" x1="0" y1="0" x2="0" y2="1"><stop offset="0" stop-color="#f2f2f2"/><stop offset="0.45" stop-color="#e6e6e6"/><stop offset="0.5" stop-color="#d8d8d8"/><stop offset="1" stop-color="#d0d0d0"/></linearGradient>
</defs>
<rect x="0" y="40" width="214" height="61" fill="#fff"/>
<!-- sell / buy buttons -->
<rect x="0" y="42" width="46" height="25" fill="url(#gb)"/>
<rect x="161" y="42" width="52" height="25" fill="url(#gb)"/>
<g shape-rendering="crispEdges">
<rect x="0" y="42" width="46" height="1" fill="#d02020"/><rect x="45" y="42" width="1" height="25" fill="#d02020"/>
<rect x="161" y="42" width="52" height="1" fill="#d02020"/><rect x="161" y="42" width="1" height="25" fill="#d02020"/><rect x="212" y="42" width="1" height="57" fill="#c01010"/>
<rect x="0" y="65" width="42" height="1" fill="#b01010"/><rect x="0" y="66" width="42" height="1" fill="#ee6a6a"/>
<rect x="165" y="65" width="44" height="1" fill="#b01010"/><rect x="165" y="66" width="44" height="1" fill="#ee6a6a"/>
</g>
<text x="5.800" y="58" font-size="12.300" fill="#fff" textLength="26" lengthAdjust="spacingAndGlyphs">SELL</text>
<text x="174" y="58" font-size="12.300" fill="#fff" textLength="23" lengthAdjust="spacingAndGlyphs">BUY</text>
<!-- price boxes -->
<rect x="0" y="67" width="103" height="32" fill="url(#gp)"/>
<rect x="105" y="67" width="108" height="32" fill="url(#gp)"/>
<g shape-rendering="crispEdges">
<rect x="46" y="66" width="57" height="1" fill="#c01818"/><rect x="102" y="66" width="1" height="33" fill="#b80c0c"/>
<rect x="105" y="66" width="56" height="1" fill="#c01818"/><rect x="105" y="66" width="1" height="33" fill="#c82020"/>
<rect x="0" y="98" width="103" height="1" fill="#a80000"/><rect x="105" y="98" width="108" height="1" fill="#a80000"/>
</g>
<g fill="#fff">
<text x="10" y="94" font-size="12.300" font-weight="bold" textLength="34.500" lengthAdjust="spacingAndGlyphs">24622</text>
<text x="120" y="94" font-size="12.300" font-weight="bold" textLength="34.500" lengthAdjust="spacingAndGlyphs">24635</text>
<rect x="49.500" y="90.200" width="3.800" height="3.800" rx="0.800"/><rect x="160.500" y="90.200" width="3.800" height="3.800" rx="0.800"/>
<text x="55" y="94.300" font-size="36" font-family="Liberation Serif, serif" textLength="18" lengthAdjust="spacingAndGlyphs">0</text>
<text x="165.700" y="94.300" font-size="36" font-family="Liberation Serif, serif" textLength="18" lengthAdjust="spacingAndGlyphs">0</text>
</g>
<!-- volume box -->
<rect x="48.500" y="42.500" width="110" height="21" fill="#fff" stroke="#a4a4b0" stroke-width="1"/>
<rect x="50" y="44" width="19" height="18" fill="url(#gv)"/><rect x="138" y="44" width="19" height="18" fill="url(#gv)"/>
<g shape-rendering="crispEdges" fill="#b4b4bc"><rect x="69" y="43" width="1" height="20"/><rect x="137" y="43" width="1" height="20"/></g>
<path d="M56 51h5l-2.500 3z" fill="#5262c2"/><path d="M145 54h5l-2.500 -3z" fill="#5262c2"/>
<text x="134" y="57.300" font-size="12.300" fill="#111" text-anchor="end">1.00</text>
</svg>

</body></html>
